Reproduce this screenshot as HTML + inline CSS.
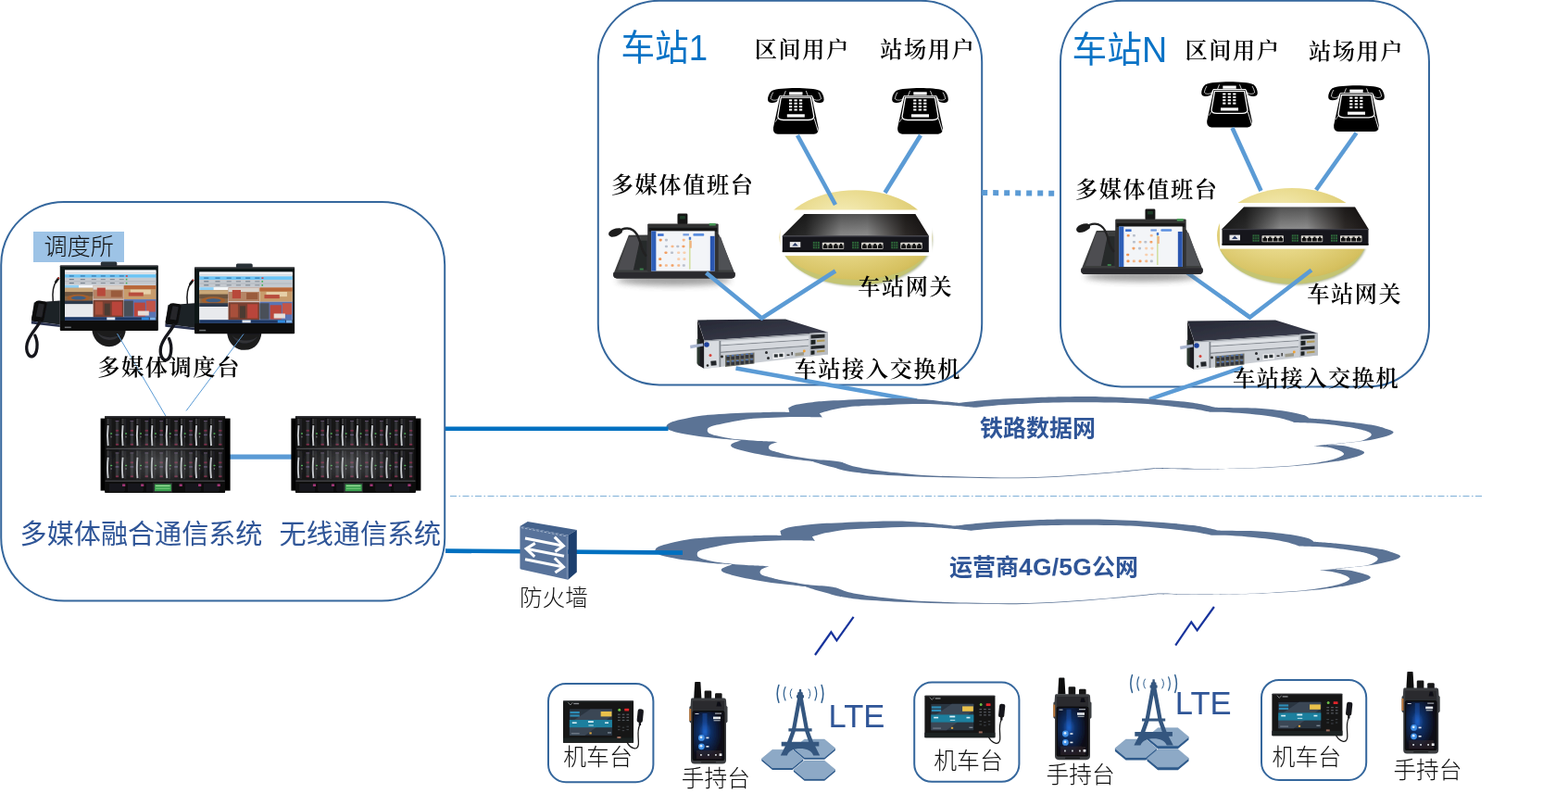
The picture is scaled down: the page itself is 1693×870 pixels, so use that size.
<!DOCTYPE html>
<html lang="zh-CN">
<head>
<meta charset="utf-8">
<title>多媒体融合通信系统组网图</title>
<style>
html,body{margin:0;padding:0;background:#fff;}
body{width:1693px;height:870px;overflow:hidden;}
svg{display:block;}
text{white-space:pre;}
.se{font-family:"Liberation Serif","Noto Serif CJK SC",serif;font-weight:600;fill:#000;}
.sl{font-family:"Liberation Sans","Noto Sans CJK SC",sans-serif;font-weight:300;}
.sr{font-family:"Liberation Sans","Noto Sans CJK SC",sans-serif;font-weight:400;}
.sb{font-family:"Liberation Sans","Noto Sans CJK SC",sans-serif;font-weight:700;}
</style>
</head>
<body>
<svg width="1693" height="870" viewBox="0 0 1693 870">
<rect width="1693" height="870" fill="#fff"/>
<g fill="none" stroke="#35679d" stroke-width="2">
<rect x="1.2" y="218" width="479" height="430.5" rx="68" ry="68"/>
<rect x="645.8" y="0.8" width="414.4" height="414.6" rx="66" ry="66"/>
<rect x="1145" y="0.8" width="398" height="416.6" rx="66" ry="66"/>
<rect x="592" y="738" width="113.4" height="106.2" rx="19" ry="19"/>
<rect x="987.2" y="736.6" width="113.2" height="107.2" rx="19" ry="19"/>
<rect x="1362" y="733.9" width="113.2" height="108" rx="19" ry="19"/>
</g>
<path d="M486,535.5 H1601" stroke="#7fb0d8" stroke-width="1" stroke-dasharray="7,2.5,1.5,2.5" fill="none"/>
<defs><filter id="soft" x="-10%" y="-10%" width="120%" height="120%"><feGaussianBlur stdDeviation="0.45"/></filter></defs>
<g stroke="#5b9bd5" stroke-width="4.4" fill="none">
<path d="M794.5,397.5 L990,432.5"/>
<path d="M1342,396.5 L1241,431"/>
</g>
<g transform="translate(719.5,428.2)"><path fill="#5b7395" d="M0,32.2C0,30.8 1.5,29.4 4.1,28.1C6.8,26.8 11,25.8 15.9,24.6C20.8,23.4 27.8,21.9 33.7,21C39.6,20.1 44.5,19.7 51.4,19.2C58.3,18.7 67.1,18.2 75,17.8C82.9,17.5 90.7,17.3 98.6,17.1C106.5,16.9 116.6,16.6 122.3,16.6C128,16.6 132.9,16.9 132.9,16.9C132.9,16.9 131.7,12.2 131.7,12.2C131.7,12.2 135.7,9.6 140,8.6C144.3,7.6 151,6.8 157.7,6C164.5,5.2 168.7,4.7 180.5,4.1C192.3,3.5 213.8,2.5 228.5,2.2C243.2,1.9 256.1,1.7 268.5,2.2C280.9,2.7 295.2,4.7 303,5.4C310.8,6.2 315.5,6.7 315.5,6.7C315.5,6.7 338.3,4 352.5,3C366.7,2 387.5,1.2 400.5,0.7C413.5,0.2 419.3,0.1 430.5,0C441.7,-0.1 452.7,-0.4 467.5,0C482.3,0.4 503,1.2 519.5,2.2C536,3.2 554.5,4.7 566.5,6.2C578.5,7.7 591.5,11.2 591.5,11.2C591.5,11.2 593.1,11.6 600.5,11.8C607.9,12 626.1,11.9 635.9,12.4C645.7,12.9 652.6,13.8 659.5,14.6C666.4,15.4 672.4,16.3 677.3,17.2C682.2,18.1 686.3,19.1 689.1,20.1C691.8,21.1 693.8,23.3 693.8,23.3C693.8,23.3 710.5,24.4 718.6,25.2C726.7,25.9 734.4,26.8 742.3,27.8C750.2,28.8 760,30.1 765.9,31.3C771.8,32.5 774.7,33.9 777.7,34.9C780.8,35.9 783.1,36.6 784.2,37.4C785.3,38.2 785.3,38.7 784.2,39.6C783.1,40.5 780.8,41.6 777.7,42.6C774.7,43.6 769.8,44.7 765.9,45.5C762,46.3 758,47 754.1,47.6C750.2,48.2 746.2,48.7 742.3,49.1C738.4,49.5 735.8,49.7 730.5,50.2C725.2,50.7 710.5,52.2 710.5,52.2C710.5,52.2 715.3,51.9 718.6,52C721.9,52.1 726.5,52.2 730.5,52.8C734.5,53.4 738.7,54.6 742.3,55.6C745.9,56.6 750.6,57.8 752.3,58.8C754,59.8 754,60.7 752.3,61.8C750.6,62.9 745.9,64.5 742.3,65.6C738.7,66.7 734.5,67.7 730.5,68.5C726.5,69.3 724.5,69.5 718.6,70.3C712.7,71.1 702.9,72.5 695,73.3C687.1,74.1 681.3,74.7 671.4,75.3C661.6,75.9 647.7,76.7 635.9,77.1C624.1,77.6 610.1,77.8 600.5,78C590.9,78.2 590.4,78.5 578.5,78.4C566.6,78.3 529.3,77.6 529.3,77.6C529.3,77.6 496,80.9 479.5,82.3C463,83.7 446.6,85.1 430.1,86.1C413.6,87.1 397.6,87.9 380.5,88.1C363.4,88.3 344.8,87.8 327.8,87.5C310.7,87.3 294.8,87.2 278.2,86.6C261.7,86 240.9,84.9 228.5,84.1C216.1,83.3 210,82.4 203.8,81.6C197.6,80.9 195.4,80.5 191.5,79.6C187.6,78.7 184.2,77.4 180.5,76.4C176.8,75.4 173.3,74.7 169.5,73.6C165.7,72.5 157.7,69.8 157.7,69.8C157.7,69.8 145.9,68.3 140,67.7C134.1,67 128.2,66.7 122.3,65.9C116.4,65.1 110.4,64.1 104.5,63C98.6,61.9 92.1,60.7 86.8,59.4C81.5,58.1 75.5,56.5 72.6,55.3C69.8,54.1 69.5,53.1 69.7,52.1C69.9,51.1 71.9,50.3 73.8,49.4C75.7,48.6 80.9,47 80.9,47C80.9,47 74,46.6 69.1,46.2C64.2,45.8 57.3,45.2 51.4,44.6C45.5,44 39.6,43.4 33.7,42.6C27.8,41.8 20.8,40.6 15.9,39.6C11,38.6 6.8,37.6 4.1,36.4C1.5,35.2 0,33.6 0,32.2Z"/><path fill="#fff" d="M44.3,35.8C44.5,34.5 44.6,33.4 47.8,32.2C50.9,31 57.7,29.7 63.2,28.5C68.7,27.3 75,26 80.9,25.2C86.8,24.3 91.7,23.9 98.6,23.4C105.5,22.9 114.4,22.5 122.3,22.2C130.2,21.9 138.2,21.8 145.9,21.8C153.6,21.8 168.3,22.2 168.3,22.2C168.3,22.2 165.4,18.1 165.4,18.1C165.4,18.1 174.1,15.2 180.5,13.9C186.9,12.6 193.7,11.3 203.8,10.4C213.9,9.5 228.6,9.1 241,8.7C253.4,8.3 267,7.8 278.2,7.9C289.4,8 298.9,8.6 308,9.2C317.1,9.8 332.8,11.6 332.8,11.6C332.8,11.6 344.6,10.3 352.5,9.7C360.4,9.1 369.6,8.5 380.5,7.9C391.4,7.3 401.2,6.5 417.7,6.2C434.2,5.9 462.7,5.9 479.7,6.2C496.7,6.5 505,6.8 519.5,7.9C534,9 555.3,11.5 566.5,12.9C577.7,14.4 586.5,16.6 586.5,16.6C586.5,16.6 594.2,16.4 600.5,16.6C606.8,16.9 616.2,17.5 624.1,18.1C632,18.8 640.9,19.6 647.8,20.5C654.7,21.4 660.4,22.5 665.5,23.7C670.6,24.9 678.5,27.8 678.5,27.8C678.5,27.8 688.3,28 695,28.4C701.7,28.8 710.7,29.3 718.6,30.2C726.5,31.1 736.4,32.6 742.3,33.7C748.2,34.8 751,35.6 754.1,36.6C757.1,37.6 759.6,38.5 760.6,39.6C761.6,40.7 761.5,41.8 760,43.1C758.5,44.4 754.7,46.4 751.7,47.3C748.8,48.3 745.8,48.4 742.3,48.8C738.8,49.3 737.7,49.3 730.5,50C723.3,50.7 699.1,53.2 699.1,53.2C699.1,53.2 708.5,53.7 712.7,54.4C716.9,55.1 721.5,56.3 724.5,57.3C727.5,58.3 729.5,59.3 730.5,60.3C731.5,61.3 732.5,61.9 730.5,63.2C728.5,64.5 724.5,66.5 718.6,68C712.7,69.5 702.9,71.3 695,72.4C687.1,73.5 681.3,74.1 671.4,74.8C661.6,75.5 647.7,76.3 635.9,76.8C624.1,77.3 610,77.6 600.5,77.8C591,78 590.9,78.1 579,77.9C567.1,77.8 529.3,76.9 529.3,76.9C529.3,76.9 496.2,80.2 479.7,81.6C463.2,83 446.6,84.4 430.1,85.3C413.6,86.3 397.6,87.1 380.5,87.3C363.4,87.5 344.8,87 327.8,86.6C310.7,86.2 290.3,85.4 278.2,84.8C266.2,84.2 263.8,83.6 255.5,82.8C247.2,82 237.1,81 228.5,79.8C219.9,78.6 210.1,77.1 203.8,75.6C197.5,74.1 190.5,71 190.5,71C190.5,71 186,70 180.5,69.4C175,68.8 165.4,68.4 157.7,67.4C150,66.4 140,64.6 134.1,63.5C128.2,62.4 126,61.7 122.3,60.6C118.5,59.5 113.4,58.5 111.6,57.1C109.8,55.7 110.1,53.7 111.6,52.3C113.1,50.9 120.5,48.8 120.5,48.8C120.5,48.8 105.2,48.2 98.6,47.8C92,47.4 85.8,46.9 80.9,46.4C76,45.9 73,45.6 69.1,45C65.2,44.4 61,43.8 57.3,42.9C53.6,42.1 48.9,41.1 46.7,39.9C44.5,38.7 44.1,37.1 44.3,35.8Z"/></g>
<g transform="translate(707.4,560.6) scale(1.025,1.039)"><path fill="#5b7395" d="M0,32.2C0,30.8 1.5,29.4 4.1,28.1C6.8,26.8 11,25.8 15.9,24.6C20.8,23.4 27.8,21.9 33.7,21C39.6,20.1 44.5,19.7 51.4,19.2C58.3,18.7 67.1,18.2 75,17.8C82.9,17.5 90.7,17.3 98.6,17.1C106.5,16.9 116.6,16.6 122.3,16.6C128,16.6 132.9,16.9 132.9,16.9C132.9,16.9 131.7,12.2 131.7,12.2C131.7,12.2 135.7,9.6 140,8.6C144.3,7.6 151,6.8 157.7,6C164.5,5.2 168.7,4.7 180.5,4.1C192.3,3.5 213.8,2.5 228.5,2.2C243.2,1.9 256.1,1.7 268.5,2.2C280.9,2.7 295.2,4.7 303,5.4C310.8,6.2 315.5,6.7 315.5,6.7C315.5,6.7 338.3,4 352.5,3C366.7,2 387.5,1.2 400.5,0.7C413.5,0.2 419.3,0.1 430.5,0C441.7,-0.1 452.7,-0.4 467.5,0C482.3,0.4 503,1.2 519.5,2.2C536,3.2 554.5,4.7 566.5,6.2C578.5,7.7 591.5,11.2 591.5,11.2C591.5,11.2 593.1,11.6 600.5,11.8C607.9,12 626.1,11.9 635.9,12.4C645.7,12.9 652.6,13.8 659.5,14.6C666.4,15.4 672.4,16.3 677.3,17.2C682.2,18.1 686.3,19.1 689.1,20.1C691.8,21.1 693.8,23.3 693.8,23.3C693.8,23.3 710.5,24.4 718.6,25.2C726.7,25.9 734.4,26.8 742.3,27.8C750.2,28.8 760,30.1 765.9,31.3C771.8,32.5 774.7,33.9 777.7,34.9C780.8,35.9 783.1,36.6 784.2,37.4C785.3,38.2 785.3,38.7 784.2,39.6C783.1,40.5 780.8,41.6 777.7,42.6C774.7,43.6 769.8,44.7 765.9,45.5C762,46.3 758,47 754.1,47.6C750.2,48.2 746.2,48.7 742.3,49.1C738.4,49.5 735.8,49.7 730.5,50.2C725.2,50.7 710.5,52.2 710.5,52.2C710.5,52.2 715.3,51.9 718.6,52C721.9,52.1 726.5,52.2 730.5,52.8C734.5,53.4 738.7,54.6 742.3,55.6C745.9,56.6 750.6,57.8 752.3,58.8C754,59.8 754,60.7 752.3,61.8C750.6,62.9 745.9,64.5 742.3,65.6C738.7,66.7 734.5,67.7 730.5,68.5C726.5,69.3 724.5,69.5 718.6,70.3C712.7,71.1 702.9,72.5 695,73.3C687.1,74.1 681.3,74.7 671.4,75.3C661.6,75.9 647.7,76.7 635.9,77.1C624.1,77.6 610.1,77.8 600.5,78C590.9,78.2 590.4,78.5 578.5,78.4C566.6,78.3 529.3,77.6 529.3,77.6C529.3,77.6 496,80.9 479.5,82.3C463,83.7 446.6,85.1 430.1,86.1C413.6,87.1 397.6,87.9 380.5,88.1C363.4,88.3 344.8,87.8 327.8,87.5C310.7,87.3 294.8,87.2 278.2,86.6C261.7,86 240.9,84.9 228.5,84.1C216.1,83.3 210,82.4 203.8,81.6C197.6,80.9 195.4,80.5 191.5,79.6C187.6,78.7 184.2,77.4 180.5,76.4C176.8,75.4 173.3,74.7 169.5,73.6C165.7,72.5 157.7,69.8 157.7,69.8C157.7,69.8 145.9,68.3 140,67.7C134.1,67 128.2,66.7 122.3,65.9C116.4,65.1 110.4,64.1 104.5,63C98.6,61.9 92.1,60.7 86.8,59.4C81.5,58.1 75.5,56.5 72.6,55.3C69.8,54.1 69.5,53.1 69.7,52.1C69.9,51.1 71.9,50.3 73.8,49.4C75.7,48.6 80.9,47 80.9,47C80.9,47 74,46.6 69.1,46.2C64.2,45.8 57.3,45.2 51.4,44.6C45.5,44 39.6,43.4 33.7,42.6C27.8,41.8 20.8,40.6 15.9,39.6C11,38.6 6.8,37.6 4.1,36.4C1.5,35.2 0,33.6 0,32.2Z"/><path fill="#fff" d="M44.3,35.8C44.5,34.5 44.6,33.4 47.8,32.2C50.9,31 57.7,29.7 63.2,28.5C68.7,27.3 75,26 80.9,25.2C86.8,24.3 91.7,23.9 98.6,23.4C105.5,22.9 114.4,22.5 122.3,22.2C130.2,21.9 138.2,21.8 145.9,21.8C153.6,21.8 168.3,22.2 168.3,22.2C168.3,22.2 165.4,18.1 165.4,18.1C165.4,18.1 174.1,15.2 180.5,13.9C186.9,12.6 193.7,11.3 203.8,10.4C213.9,9.5 228.6,9.1 241,8.7C253.4,8.3 267,7.8 278.2,7.9C289.4,8 298.9,8.6 308,9.2C317.1,9.8 332.8,11.6 332.8,11.6C332.8,11.6 344.6,10.3 352.5,9.7C360.4,9.1 369.6,8.5 380.5,7.9C391.4,7.3 401.2,6.5 417.7,6.2C434.2,5.9 462.7,5.9 479.7,6.2C496.7,6.5 505,6.8 519.5,7.9C534,9 555.3,11.5 566.5,12.9C577.7,14.4 586.5,16.6 586.5,16.6C586.5,16.6 594.2,16.4 600.5,16.6C606.8,16.9 616.2,17.5 624.1,18.1C632,18.8 640.9,19.6 647.8,20.5C654.7,21.4 660.4,22.5 665.5,23.7C670.6,24.9 678.5,27.8 678.5,27.8C678.5,27.8 688.3,28 695,28.4C701.7,28.8 710.7,29.3 718.6,30.2C726.5,31.1 736.4,32.6 742.3,33.7C748.2,34.8 751,35.6 754.1,36.6C757.1,37.6 759.6,38.5 760.6,39.6C761.6,40.7 761.5,41.8 760,43.1C758.5,44.4 754.7,46.4 751.7,47.3C748.8,48.3 745.8,48.4 742.3,48.8C738.8,49.3 737.7,49.3 730.5,50C723.3,50.7 699.1,53.2 699.1,53.2C699.1,53.2 708.5,53.7 712.7,54.4C716.9,55.1 721.5,56.3 724.5,57.3C727.5,58.3 729.5,59.3 730.5,60.3C731.5,61.3 732.5,61.9 730.5,63.2C728.5,64.5 724.5,66.5 718.6,68C712.7,69.5 702.9,71.3 695,72.4C687.1,73.5 681.3,74.1 671.4,74.8C661.6,75.5 647.7,76.3 635.9,76.8C624.1,77.3 610,77.6 600.5,77.8C591,78 590.9,78.1 579,77.9C567.1,77.8 529.3,76.9 529.3,76.9C529.3,76.9 496.2,80.2 479.7,81.6C463.2,83 446.6,84.4 430.1,85.3C413.6,86.3 397.6,87.1 380.5,87.3C363.4,87.5 344.8,87 327.8,86.6C310.7,86.2 290.3,85.4 278.2,84.8C266.2,84.2 263.8,83.6 255.5,82.8C247.2,82 237.1,81 228.5,79.8C219.9,78.6 210.1,77.1 203.8,75.6C197.5,74.1 190.5,71 190.5,71C190.5,71 186,70 180.5,69.4C175,68.8 165.4,68.4 157.7,67.4C150,66.4 140,64.6 134.1,63.5C128.2,62.4 126,61.7 122.3,60.6C118.5,59.5 113.4,58.5 111.6,57.1C109.8,55.7 110.1,53.7 111.6,52.3C113.1,50.9 120.5,48.8 120.5,48.8C120.5,48.8 105.2,48.2 98.6,47.8C92,47.4 85.8,46.9 80.9,46.4C76,45.9 73,45.6 69.1,45C65.2,44.4 61,43.8 57.3,42.9C53.6,42.1 48.9,41.1 46.7,39.9C44.5,38.7 44.1,37.1 44.3,35.8Z"/></g>
<g stroke="#0070c0" stroke-width="4.6" fill="none">
<path d="M481,462.8 L721.5,462.8"/>
<path d="M481,594.6 L737,596.6"/>
</g>
<path d="M1060.2,208 L1138.4,208.7" stroke="#5b9bd5" stroke-width="6" stroke-dasharray="6,6" fill="none"/>
<rect x="36" y="250" width="98" height="33" fill="#9dc3e6"/>
<g transform="translate(64.8,286.6)" filter="url(#soft)"><path d="M-28,40 L0,38 L0,64 L-31,60 Z" fill="#1f2126"/><path d="M-31,60 L0,64 L0,66.5 L-31,63 Z" fill="#2a3350"/><path d="M-27,40 Q-26,37.5 -22,38 L-16,39 Q-13.5,40 -14.5,43 L-17.5,59 Q-18.5,61.5 -22,61 L-29,60 Q-31.5,59 -30.5,56 Z" fill="#0c0d0f"/><path d="M-23,41 L-17,42 L-19.5,56 L-26,55 Z" fill="#26282c"/><path d="M-7.5,39 C-8.5,30 -8,22 -3.5,16.5" fill="none" stroke="#1b1b1d" stroke-width="1.5"/><path d="M-4.6,18 L-1.8,14" stroke="#151515" stroke-width="2.6" stroke-linecap="round"/><circle cx="-1.6" cy="13.6" r="0.9" fill="#d0342c"/><path d="M-22,61 C-25,68 -33,74 -35.5,84 C-37.5,93 -33.5,99.5 -29.5,98 C-24.5,96 -23,84 -27,75.5" fill="none" stroke="#16181d" stroke-width="3.3" stroke-linecap="round"/><path d="M34.5,69 L71,69 C70.5,78 64.5,87.6 53,87.6 C41.5,87.6 35,78 34.5,69 Z" fill="#1b1c1f"/><path d="M40,72 C44,82 60,84 67,73 C61,79 47,79.5 40,72 Z" fill="#303136"/><rect x="44" y="-4" width="17.5" height="5" rx="1.6" fill="#2b3038"/><rect x="0" y="0" width="106" height="70.4" rx="1" fill="#111214"/><rect x="0" y="0" width="106" height="1.2" fill="#3b3d42"/><rect x="0.5" y="60" width="105" height="10" fill="#0a0a0b"/><rect x="5" y="66" width="7" height="1.5" fill="#6d6f73"/><rect x="5.2" y="5" width="98.4" height="54" fill="#e9edf1"/><rect x="5.2" y="5" width="98.4" height="3.2" fill="#f6f7f9"/><rect x="5.2" y="7" width="98.4" height="2" fill="#d9dde2"/><rect x="5.2" y="9.6" width="98.4" height="3.6" fill="#6cc4f4"/><rect x="5.2" y="13.2" width="98.4" height="8" fill="#c4c9cf"/><rect x="5.2" y="16.8" width="98.4" height="0.8" fill="#aeb4bb"/><rect x="10" y="10.8" width="5" height="1.1" fill="#2d6fa8"/><rect x="10" y="14.4" width="5" height="1.1" fill="#6d7a88"/><rect x="10" y="18.4" width="5" height="1.1" fill="#6d7a88"/><rect x="22" y="10.8" width="5" height="1.1" fill="#2d6fa8"/><rect x="22" y="14.4" width="5" height="1.1" fill="#78828e"/><rect x="22" y="18.4" width="5" height="1.1" fill="#78828e"/><rect x="34" y="10.8" width="5" height="1.1" fill="#2d6fa8"/><rect x="34" y="14.4" width="5" height="1.1" fill="#8a929c"/><rect x="34" y="18.4" width="5" height="1.1" fill="#8a929c"/><rect x="44" y="10.8" width="5" height="1.1" fill="#2d6fa8"/><rect x="44" y="14.4" width="5" height="1.1" fill="#8a929c"/><rect x="44" y="18.4" width="5" height="1.1" fill="#8a929c"/><rect x="54" y="10.8" width="5" height="1.1" fill="#2d6fa8"/><rect x="54" y="14.4" width="5" height="1.1" fill="#7e8791"/><rect x="54" y="18.4" width="5" height="1.1" fill="#7e8791"/><rect x="64" y="10.8" width="5" height="1.1" fill="#2d6fa8"/><rect x="64" y="14.4" width="5" height="1.1" fill="#8a929c"/><rect x="64" y="18.4" width="5" height="1.1" fill="#8a929c"/><rect x="71" y="10.6" width="2" height="1.6" fill="#d43a3a"/><rect x="71" y="14.2" width="1.6" height="1.6" fill="#3fae55"/><rect x="71" y="18.2" width="1.6" height="1.6" fill="#3fae55"/><rect x="5.2" y="21.2" width="30" height="3" fill="#f4f6f8"/><rect x="5.2" y="21.2" width="15" height="3" fill="#8fd0f5"/><rect x="5.2" y="24.2" width="30.3" height="17.5" fill="#8a6a4a"/><rect x="5.2" y="24.2" width="30.3" height="5" fill="#c9a779"/><rect x="5.2" y="28.5" width="30.3" height="4.5" fill="#6c5440"/><ellipse cx="20" cy="35" rx="12.5" ry="3.8" fill="#a3602f"/><ellipse cx="20" cy="35" rx="8" ry="2" fill="#3d5f86"/><rect x="5.2" y="38" width="30.3" height="3.7" fill="#2e3a4e"/><rect x="5.2" y="41.7" width="30.3" height="14" fill="#e8eaed"/><rect x="36" y="21.5" width="32.5" height="34.2" fill="#8b4a36"/><rect x="36" y="21.5" width="32.5" height="5" fill="#d9d2cb"/><rect x="36" y="26" width="32.5" height="10" fill="#b58566"/><rect x="40" y="24" width="9" height="9" fill="#b8493a"/><rect x="55" y="27" width="12" height="7" fill="#9a5b3e"/><rect x="36" y="36" width="32.5" height="1.2" fill="#e6e6e6"/><rect x="36" y="37.2" width="32.5" height="18.5" fill="#7a4030"/><rect x="38" y="39" width="8" height="14" fill="#a8503a"/><rect x="48" y="41" width="6" height="13" fill="#4c3a33"/><rect x="56" y="39" width="11" height="15" fill="#b9453a"/><rect x="69" y="21.5" width="34.6" height="15" fill="#c79c6c"/><rect x="69" y="21.5" width="34.6" height="4" fill="#b8683a"/><rect x="76" y="26" width="22" height="5" fill="#e6cfa8"/><rect x="74" y="29" width="16" height="4" fill="#b84e3c"/><rect x="69" y="36.5" width="34.6" height="19.2" fill="#5a74b4"/><rect x="69" y="38" width="10" height="17" fill="#4a4f58"/><rect x="80" y="40" width="12" height="15" fill="#ba463c"/><rect x="93" y="38" width="10" height="12" fill="#c2544a"/><rect x="84" y="49" width="12" height="5" fill="#e6dcd6"/><rect x="5.2" y="55.6" width="98.4" height="3.6" fill="#1d3765"/><rect x="50.5" y="55.9" width="9" height="2.8" fill="#dfe6ef"/><rect x="88" y="55.9" width="8" height="2.8" fill="#2f8be0"/><rect x="97" y="55.9" width="6" height="2.8" fill="#7fb4ea"/></g>
<g transform="translate(210,288.5) scale(1.02,1.02)" filter="url(#soft)"><path d="M-28,40 L0,38 L0,64 L-31,60 Z" fill="#1f2126"/><path d="M-31,60 L0,64 L0,66.5 L-31,63 Z" fill="#2a3350"/><path d="M-27,40 Q-26,37.5 -22,38 L-16,39 Q-13.5,40 -14.5,43 L-17.5,59 Q-18.5,61.5 -22,61 L-29,60 Q-31.5,59 -30.5,56 Z" fill="#0c0d0f"/><path d="M-23,41 L-17,42 L-19.5,56 L-26,55 Z" fill="#26282c"/><path d="M-7.5,39 C-8.5,30 -8,22 -3.5,16.5" fill="none" stroke="#1b1b1d" stroke-width="1.5"/><path d="M-4.6,18 L-1.8,14" stroke="#151515" stroke-width="2.6" stroke-linecap="round"/><circle cx="-1.6" cy="13.6" r="0.9" fill="#d0342c"/><path d="M-22,61 C-25,68 -33,74 -35.5,84 C-37.5,93 -33.5,99.5 -29.5,98 C-24.5,96 -23,84 -27,75.5" fill="none" stroke="#16181d" stroke-width="3.3" stroke-linecap="round"/><path d="M34.5,69 L71,69 C70.5,78 64.5,87.6 53,87.6 C41.5,87.6 35,78 34.5,69 Z" fill="#1b1c1f"/><path d="M40,72 C44,82 60,84 67,73 C61,79 47,79.5 40,72 Z" fill="#303136"/><rect x="44" y="-4" width="17.5" height="5" rx="1.6" fill="#2b3038"/><rect x="0" y="0" width="106" height="70.4" rx="1" fill="#111214"/><rect x="0" y="0" width="106" height="1.2" fill="#3b3d42"/><rect x="0.5" y="60" width="105" height="10" fill="#0a0a0b"/><rect x="5" y="66" width="7" height="1.5" fill="#6d6f73"/><rect x="5.2" y="5" width="98.4" height="54" fill="#e9edf1"/><rect x="5.2" y="5" width="98.4" height="3.2" fill="#f6f7f9"/><rect x="5.2" y="7" width="98.4" height="2" fill="#d9dde2"/><rect x="5.2" y="9.6" width="98.4" height="3.6" fill="#6cc4f4"/><rect x="5.2" y="13.2" width="98.4" height="8" fill="#c4c9cf"/><rect x="5.2" y="16.8" width="98.4" height="0.8" fill="#aeb4bb"/><rect x="10" y="10.8" width="5" height="1.1" fill="#2d6fa8"/><rect x="10" y="14.4" width="5" height="1.1" fill="#6d7a88"/><rect x="10" y="18.4" width="5" height="1.1" fill="#6d7a88"/><rect x="22" y="10.8" width="5" height="1.1" fill="#2d6fa8"/><rect x="22" y="14.4" width="5" height="1.1" fill="#78828e"/><rect x="22" y="18.4" width="5" height="1.1" fill="#78828e"/><rect x="34" y="10.8" width="5" height="1.1" fill="#2d6fa8"/><rect x="34" y="14.4" width="5" height="1.1" fill="#8a929c"/><rect x="34" y="18.4" width="5" height="1.1" fill="#8a929c"/><rect x="44" y="10.8" width="5" height="1.1" fill="#2d6fa8"/><rect x="44" y="14.4" width="5" height="1.1" fill="#8a929c"/><rect x="44" y="18.4" width="5" height="1.1" fill="#8a929c"/><rect x="54" y="10.8" width="5" height="1.1" fill="#2d6fa8"/><rect x="54" y="14.4" width="5" height="1.1" fill="#7e8791"/><rect x="54" y="18.4" width="5" height="1.1" fill="#7e8791"/><rect x="64" y="10.8" width="5" height="1.1" fill="#2d6fa8"/><rect x="64" y="14.4" width="5" height="1.1" fill="#8a929c"/><rect x="64" y="18.4" width="5" height="1.1" fill="#8a929c"/><rect x="71" y="10.6" width="2" height="1.6" fill="#d43a3a"/><rect x="71" y="14.2" width="1.6" height="1.6" fill="#3fae55"/><rect x="71" y="18.2" width="1.6" height="1.6" fill="#3fae55"/><rect x="5.2" y="21.2" width="30" height="3" fill="#f4f6f8"/><rect x="5.2" y="21.2" width="15" height="3" fill="#8fd0f5"/><rect x="5.2" y="24.2" width="30.3" height="17.5" fill="#8a6a4a"/><rect x="5.2" y="24.2" width="30.3" height="5" fill="#c9a779"/><rect x="5.2" y="28.5" width="30.3" height="4.5" fill="#6c5440"/><ellipse cx="20" cy="35" rx="12.5" ry="3.8" fill="#a3602f"/><ellipse cx="20" cy="35" rx="8" ry="2" fill="#3d5f86"/><rect x="5.2" y="38" width="30.3" height="3.7" fill="#2e3a4e"/><rect x="5.2" y="41.7" width="30.3" height="14" fill="#e8eaed"/><rect x="36" y="21.5" width="32.5" height="34.2" fill="#8b4a36"/><rect x="36" y="21.5" width="32.5" height="5" fill="#d9d2cb"/><rect x="36" y="26" width="32.5" height="10" fill="#b58566"/><rect x="40" y="24" width="9" height="9" fill="#b8493a"/><rect x="55" y="27" width="12" height="7" fill="#9a5b3e"/><rect x="36" y="36" width="32.5" height="1.2" fill="#e6e6e6"/><rect x="36" y="37.2" width="32.5" height="18.5" fill="#7a4030"/><rect x="38" y="39" width="8" height="14" fill="#a8503a"/><rect x="48" y="41" width="6" height="13" fill="#4c3a33"/><rect x="56" y="39" width="11" height="15" fill="#b9453a"/><rect x="69" y="21.5" width="34.6" height="15" fill="#c79c6c"/><rect x="69" y="21.5" width="34.6" height="4" fill="#b8683a"/><rect x="76" y="26" width="22" height="5" fill="#e6cfa8"/><rect x="74" y="29" width="16" height="4" fill="#b84e3c"/><rect x="69" y="36.5" width="34.6" height="19.2" fill="#5a74b4"/><rect x="69" y="38" width="10" height="17" fill="#4a4f58"/><rect x="80" y="40" width="12" height="15" fill="#ba463c"/><rect x="93" y="38" width="10" height="12" fill="#c2544a"/><rect x="84" y="49" width="12" height="5" fill="#e6dcd6"/><rect x="5.2" y="55.6" width="98.4" height="3.6" fill="#1d3765"/><rect x="50.5" y="55.9" width="9" height="2.8" fill="#dfe6ef"/><rect x="88" y="55.9" width="8" height="2.8" fill="#2f8be0"/><rect x="97" y="55.9" width="6" height="2.8" fill="#7fb4ea"/></g>
<g stroke="#5b9bd5" stroke-width="1" fill="none"><path d="M126.5,360 L179.5,450"/><path d="M263,360.5 L201,443.5"/></g>
<path d="M248,493.2 H315" stroke="#5b9bd5" stroke-width="5.2" fill="none"/>
<g transform="translate(108.6,448.6)" filter="url(#soft)"><defs><radialGradient id="sva" cx="0.45" cy="0.72" r="0.45"><stop offset="0" stop-color="#8a8c90" stop-opacity="0.38"/><stop offset="1" stop-color="#8a8c90" stop-opacity="0"/></radialGradient></defs><rect x="0" y="3" width="140" height="78" fill="#050505"/><rect x="4.5" y="0.5" width="130" height="83" rx="1" fill="#0e0e0f"/><rect x="4.5" y="0.5" width="130" height="1.4" fill="#3a3a3c"/><rect x="6.5" y="2.5" width="14.9" height="32" fill="#131314"/><path d="M8.1,10.5 q-1.3,11 0,22" fill="none" stroke="#c9ccd0" stroke-width="1.9"/><rect x="6.9" y="3.3" width="2.2" height="6" fill="#3a3b3e"/><rect x="9.5" y="3.5" width="2.4" height="30" fill="#242426"/><rect x="16.3" y="5.5" width="3.2" height="26" fill="#303134"/><rect x="16" y="5.3" width="3.8" height="1.1" fill="#5d4d68"/><rect x="16.3" y="15.3" width="3.2" height="1.8" fill="#7c2f4a"/><rect x="16.1" y="20.1" width="3.6" height="1.4" fill="#6a5c80"/><rect x="16.3" y="30.3" width="3.2" height="1.8" fill="#7c2f4a"/><rect x="10.5" y="18.7" width="2.2" height="1.5" rx="0.7" fill="#55b259"/><rect x="10.9" y="22.1" width="1.2" height="1.6" fill="#77797d"/><rect x="22.4" y="2.5" width="14.9" height="32" fill="#131314"/><path d="M24,10.5 q-1.3,11 0,22" fill="none" stroke="#c9ccd0" stroke-width="1.9"/><rect x="22.8" y="3.3" width="2.2" height="6" fill="#3a3b3e"/><rect x="25.4" y="3.5" width="2.4" height="30" fill="#242426"/><rect x="32.2" y="5.5" width="3.2" height="26" fill="#303134"/><rect x="31.9" y="5.3" width="3.8" height="1.1" fill="#5d4d68"/><rect x="32.2" y="15.3" width="3.2" height="1.8" fill="#7c2f4a"/><rect x="32" y="20.1" width="3.6" height="1.4" fill="#6a5c80"/><rect x="32.2" y="30.3" width="3.2" height="1.8" fill="#7c2f4a"/><rect x="26.4" y="18.7" width="2.2" height="1.5" rx="0.7" fill="#55b259"/><rect x="26.8" y="22.1" width="1.2" height="1.6" fill="#77797d"/><rect x="38.3" y="2.5" width="14.9" height="32" fill="#131314"/><path d="M39.9,10.5 q-1.3,11 0,22" fill="none" stroke="#c9ccd0" stroke-width="1.9"/><rect x="38.7" y="3.3" width="2.2" height="6" fill="#3a3b3e"/><rect x="41.3" y="3.5" width="2.4" height="30" fill="#242426"/><rect x="48.1" y="5.5" width="3.2" height="26" fill="#303134"/><rect x="47.8" y="5.3" width="3.8" height="1.1" fill="#5d4d68"/><rect x="48.1" y="15.3" width="3.2" height="1.8" fill="#7c2f4a"/><rect x="47.9" y="20.1" width="3.6" height="1.4" fill="#6a5c80"/><rect x="48.1" y="30.3" width="3.2" height="1.8" fill="#7c2f4a"/><rect x="42.3" y="18.7" width="2.2" height="1.5" rx="0.7" fill="#55b259"/><rect x="42.7" y="22.1" width="1.2" height="1.6" fill="#77797d"/><rect x="54.2" y="2.5" width="14.9" height="32" fill="#131314"/><path d="M55.8,10.5 q-1.3,11 0,22" fill="none" stroke="#c9ccd0" stroke-width="1.9"/><rect x="54.6" y="3.3" width="2.2" height="6" fill="#3a3b3e"/><rect x="57.2" y="3.5" width="2.4" height="30" fill="#242426"/><rect x="64" y="5.5" width="3.2" height="26" fill="#303134"/><rect x="63.7" y="5.3" width="3.8" height="1.1" fill="#5d4d68"/><rect x="64" y="15.3" width="3.2" height="1.8" fill="#7c2f4a"/><rect x="63.8" y="20.1" width="3.6" height="1.4" fill="#6a5c80"/><rect x="64" y="30.3" width="3.2" height="1.8" fill="#7c2f4a"/><rect x="58.2" y="18.7" width="2.2" height="1.5" rx="0.7" fill="#55b259"/><rect x="58.6" y="22.1" width="1.2" height="1.6" fill="#77797d"/><rect x="70.1" y="2.5" width="14.9" height="32" fill="#131314"/><path d="M71.7,10.5 q-1.3,11 0,22" fill="none" stroke="#c9ccd0" stroke-width="1.9"/><rect x="70.5" y="3.3" width="2.2" height="6" fill="#3a3b3e"/><rect x="73.1" y="3.5" width="2.4" height="30" fill="#242426"/><rect x="79.9" y="5.5" width="3.2" height="26" fill="#303134"/><rect x="79.6" y="5.3" width="3.8" height="1.1" fill="#5d4d68"/><rect x="79.9" y="15.3" width="3.2" height="1.8" fill="#7c2f4a"/><rect x="79.7" y="20.1" width="3.6" height="1.4" fill="#6a5c80"/><rect x="79.9" y="30.3" width="3.2" height="1.8" fill="#7c2f4a"/><rect x="74.1" y="18.7" width="2.2" height="1.5" rx="0.7" fill="#55b259"/><rect x="74.5" y="22.1" width="1.2" height="1.6" fill="#77797d"/><rect x="86" y="2.5" width="14.9" height="32" fill="#131314"/><path d="M87.6,10.5 q-1.3,11 0,22" fill="none" stroke="#c9ccd0" stroke-width="1.9"/><rect x="86.4" y="3.3" width="2.2" height="6" fill="#3a3b3e"/><rect x="89" y="3.5" width="2.4" height="30" fill="#242426"/><rect x="95.8" y="5.5" width="3.2" height="26" fill="#303134"/><rect x="95.5" y="5.3" width="3.8" height="1.1" fill="#5d4d68"/><rect x="95.8" y="15.3" width="3.2" height="1.8" fill="#7c2f4a"/><rect x="95.6" y="20.1" width="3.6" height="1.4" fill="#6a5c80"/><rect x="95.8" y="30.3" width="3.2" height="1.8" fill="#7c2f4a"/><rect x="90" y="18.7" width="2.2" height="1.5" rx="0.7" fill="#55b259"/><rect x="90.4" y="22.1" width="1.2" height="1.6" fill="#77797d"/><rect x="101.9" y="2.5" width="14.9" height="32" fill="#131314"/><path d="M103.5,10.5 q-1.3,11 0,22" fill="none" stroke="#c9ccd0" stroke-width="1.9"/><rect x="102.3" y="3.3" width="2.2" height="6" fill="#3a3b3e"/><rect x="104.9" y="3.5" width="2.4" height="30" fill="#242426"/><rect x="111.7" y="5.5" width="3.2" height="26" fill="#303134"/><rect x="111.4" y="5.3" width="3.8" height="1.1" fill="#5d4d68"/><rect x="111.7" y="15.3" width="3.2" height="1.8" fill="#7c2f4a"/><rect x="111.5" y="20.1" width="3.6" height="1.4" fill="#6a5c80"/><rect x="111.7" y="30.3" width="3.2" height="1.8" fill="#7c2f4a"/><rect x="105.9" y="18.7" width="2.2" height="1.5" rx="0.7" fill="#55b259"/><rect x="106.3" y="22.1" width="1.2" height="1.6" fill="#77797d"/><rect x="117.8" y="2.5" width="14.9" height="32" fill="#131314"/><path d="M119.4,10.5 q-1.3,11 0,22" fill="none" stroke="#c9ccd0" stroke-width="1.9"/><rect x="118.2" y="3.3" width="2.2" height="6" fill="#3a3b3e"/><rect x="120.8" y="3.5" width="2.4" height="30" fill="#242426"/><rect x="127.6" y="5.5" width="3.2" height="26" fill="#303134"/><rect x="127.3" y="5.3" width="3.8" height="1.1" fill="#5d4d68"/><rect x="127.6" y="15.3" width="3.2" height="1.8" fill="#7c2f4a"/><rect x="127.4" y="20.1" width="3.6" height="1.4" fill="#6a5c80"/><rect x="127.6" y="30.3" width="3.2" height="1.8" fill="#7c2f4a"/><rect x="121.8" y="18.7" width="2.2" height="1.5" rx="0.7" fill="#55b259"/><rect x="122.2" y="22.1" width="1.2" height="1.6" fill="#77797d"/><rect x="6.5" y="37" width="14.9" height="32.5" fill="#131314"/><path d="M8.1,45 q-1.3,11.2 0,22.5" fill="none" stroke="#c9ccd0" stroke-width="1.9"/><rect x="6.9" y="37.8" width="2.2" height="6" fill="#3a3b3e"/><rect x="9.5" y="38" width="2.4" height="30.5" fill="#242426"/><rect x="16.3" y="40" width="3.2" height="26.5" fill="#303134"/><rect x="16" y="39.8" width="3.8" height="1.1" fill="#5d4d68"/><rect x="16.3" y="49.8" width="3.2" height="1.8" fill="#7c2f4a"/><rect x="16.1" y="54.6" width="3.6" height="1.4" fill="#6a5c80"/><rect x="16.3" y="64.8" width="3.2" height="1.8" fill="#7c2f4a"/><rect x="10.5" y="53.2" width="2.2" height="1.5" rx="0.7" fill="#55b259"/><rect x="10.9" y="56.6" width="1.2" height="1.6" fill="#77797d"/><rect x="22.4" y="37" width="14.9" height="32.5" fill="#131314"/><path d="M24,45 q-1.3,11.2 0,22.5" fill="none" stroke="#c9ccd0" stroke-width="1.9"/><rect x="22.8" y="37.8" width="2.2" height="6" fill="#3a3b3e"/><rect x="25.4" y="38" width="2.4" height="30.5" fill="#242426"/><rect x="32.2" y="40" width="3.2" height="26.5" fill="#303134"/><rect x="31.9" y="39.8" width="3.8" height="1.1" fill="#5d4d68"/><rect x="32.2" y="49.8" width="3.2" height="1.8" fill="#7c2f4a"/><rect x="32" y="54.6" width="3.6" height="1.4" fill="#6a5c80"/><rect x="32.2" y="64.8" width="3.2" height="1.8" fill="#7c2f4a"/><rect x="26.4" y="53.2" width="2.2" height="1.5" rx="0.7" fill="#55b259"/><rect x="26.8" y="56.6" width="1.2" height="1.6" fill="#77797d"/><rect x="38.3" y="37" width="14.9" height="32.5" fill="#131314"/><path d="M39.9,45 q-1.3,11.2 0,22.5" fill="none" stroke="#c9ccd0" stroke-width="1.9"/><rect x="38.7" y="37.8" width="2.2" height="6" fill="#3a3b3e"/><rect x="41.3" y="38" width="2.4" height="30.5" fill="#242426"/><rect x="48.1" y="40" width="3.2" height="26.5" fill="#303134"/><rect x="47.8" y="39.8" width="3.8" height="1.1" fill="#5d4d68"/><rect x="48.1" y="49.8" width="3.2" height="1.8" fill="#7c2f4a"/><rect x="47.9" y="54.6" width="3.6" height="1.4" fill="#6a5c80"/><rect x="48.1" y="64.8" width="3.2" height="1.8" fill="#7c2f4a"/><rect x="42.3" y="53.2" width="2.2" height="1.5" rx="0.7" fill="#55b259"/><rect x="42.7" y="56.6" width="1.2" height="1.6" fill="#77797d"/><rect x="54.2" y="37" width="14.9" height="32.5" fill="#131314"/><path d="M55.8,45 q-1.3,11.2 0,22.5" fill="none" stroke="#c9ccd0" stroke-width="1.9"/><rect x="54.6" y="37.8" width="2.2" height="6" fill="#3a3b3e"/><rect x="57.2" y="38" width="2.4" height="30.5" fill="#242426"/><rect x="64" y="40" width="3.2" height="26.5" fill="#303134"/><rect x="63.7" y="39.8" width="3.8" height="1.1" fill="#5d4d68"/><rect x="64" y="49.8" width="3.2" height="1.8" fill="#7c2f4a"/><rect x="63.8" y="54.6" width="3.6" height="1.4" fill="#6a5c80"/><rect x="64" y="64.8" width="3.2" height="1.8" fill="#7c2f4a"/><rect x="58.2" y="53.2" width="2.2" height="1.5" rx="0.7" fill="#55b259"/><rect x="58.6" y="56.6" width="1.2" height="1.6" fill="#77797d"/><rect x="70.1" y="37" width="14.9" height="32.5" fill="#131314"/><path d="M71.7,45 q-1.3,11.2 0,22.5" fill="none" stroke="#c9ccd0" stroke-width="1.9"/><rect x="70.5" y="37.8" width="2.2" height="6" fill="#3a3b3e"/><rect x="73.1" y="38" width="2.4" height="30.5" fill="#242426"/><rect x="79.9" y="40" width="3.2" height="26.5" fill="#303134"/><rect x="79.6" y="39.8" width="3.8" height="1.1" fill="#5d4d68"/><rect x="79.9" y="49.8" width="3.2" height="1.8" fill="#7c2f4a"/><rect x="79.7" y="54.6" width="3.6" height="1.4" fill="#6a5c80"/><rect x="79.9" y="64.8" width="3.2" height="1.8" fill="#7c2f4a"/><rect x="74.1" y="53.2" width="2.2" height="1.5" rx="0.7" fill="#55b259"/><rect x="74.5" y="56.6" width="1.2" height="1.6" fill="#77797d"/><rect x="86" y="37" width="14.9" height="32.5" fill="#131314"/><path d="M87.6,45 q-1.3,11.2 0,22.5" fill="none" stroke="#c9ccd0" stroke-width="1.9"/><rect x="86.4" y="37.8" width="2.2" height="6" fill="#3a3b3e"/><rect x="89" y="38" width="2.4" height="30.5" fill="#242426"/><rect x="95.8" y="40" width="3.2" height="26.5" fill="#303134"/><rect x="95.5" y="39.8" width="3.8" height="1.1" fill="#5d4d68"/><rect x="95.8" y="49.8" width="3.2" height="1.8" fill="#7c2f4a"/><rect x="95.6" y="54.6" width="3.6" height="1.4" fill="#6a5c80"/><rect x="95.8" y="64.8" width="3.2" height="1.8" fill="#7c2f4a"/><rect x="90" y="53.2" width="2.2" height="1.5" rx="0.7" fill="#55b259"/><rect x="90.4" y="56.6" width="1.2" height="1.6" fill="#77797d"/><rect x="101.9" y="37" width="14.9" height="32.5" fill="#131314"/><path d="M103.5,45 q-1.3,11.2 0,22.5" fill="none" stroke="#c9ccd0" stroke-width="1.9"/><rect x="102.3" y="37.8" width="2.2" height="6" fill="#3a3b3e"/><rect x="104.9" y="38" width="2.4" height="30.5" fill="#242426"/><rect x="111.7" y="40" width="3.2" height="26.5" fill="#303134"/><rect x="111.4" y="39.8" width="3.8" height="1.1" fill="#5d4d68"/><rect x="111.7" y="49.8" width="3.2" height="1.8" fill="#7c2f4a"/><rect x="111.5" y="54.6" width="3.6" height="1.4" fill="#6a5c80"/><rect x="111.7" y="64.8" width="3.2" height="1.8" fill="#7c2f4a"/><rect x="105.9" y="53.2" width="2.2" height="1.5" rx="0.7" fill="#55b259"/><rect x="106.3" y="56.6" width="1.2" height="1.6" fill="#77797d"/><rect x="117.8" y="37" width="14.9" height="32.5" fill="#131314"/><path d="M119.4,45 q-1.3,11.2 0,22.5" fill="none" stroke="#c9ccd0" stroke-width="1.9"/><rect x="118.2" y="37.8" width="2.2" height="6" fill="#3a3b3e"/><rect x="120.8" y="38" width="2.4" height="30.5" fill="#242426"/><rect x="127.6" y="40" width="3.2" height="26.5" fill="#303134"/><rect x="127.3" y="39.8" width="3.8" height="1.1" fill="#5d4d68"/><rect x="127.6" y="49.8" width="3.2" height="1.8" fill="#7c2f4a"/><rect x="127.4" y="54.6" width="3.6" height="1.4" fill="#6a5c80"/><rect x="127.6" y="64.8" width="3.2" height="1.8" fill="#7c2f4a"/><rect x="121.8" y="53.2" width="2.2" height="1.5" rx="0.7" fill="#55b259"/><rect x="122.2" y="56.6" width="1.2" height="1.6" fill="#77797d"/><rect x="6" y="35" width="127" height="1.5" fill="#46474a"/><rect x="5" y="2" width="129" height="68" fill="url(#sva)"/><rect x="5" y="70" width="129" height="1.2" fill="#55575a"/><rect x="5" y="71.2" width="129" height="12" fill="#0b0b0c"/><rect x="9" y="73" width="17" height="9" fill="#18181a"/><rect x="29" y="73" width="17" height="9" fill="#18181a"/><rect x="49" y="73" width="17" height="9" fill="#18181a"/><rect x="91" y="73" width="17" height="9" fill="#18181a"/><rect x="111" y="73" width="17" height="9" fill="#18181a"/><rect x="23.5" y="73.8" width="3.2" height="2.6" fill="#9e3674"/><rect x="43.5" y="73.8" width="3.2" height="2.6" fill="#9e3674"/><rect x="85" y="73.8" width="3.2" height="2.6" fill="#9e3674"/><rect x="105.5" y="73.8" width="3.2" height="2.6" fill="#9e3674"/><rect x="126" y="73.8" width="3.2" height="2.6" fill="#9e3674"/><rect x="56.5" y="72.5" width="21" height="10.5" fill="#2b2b2d"/><rect x="58.3" y="74" width="18" height="7.6" fill="#3aa04f"/><rect x="59.5" y="75.2" width="15.5" height="1.2" fill="#9edc9a"/><rect x="59.5" y="78" width="15.5" height="1.2" fill="#74c778"/></g>
<g transform="translate(314.4,448.6)" filter="url(#soft)"><defs><radialGradient id="svb" cx="0.45" cy="0.72" r="0.45"><stop offset="0" stop-color="#8a8c90" stop-opacity="0.38"/><stop offset="1" stop-color="#8a8c90" stop-opacity="0"/></radialGradient></defs><rect x="0" y="3" width="140" height="78" fill="#050505"/><rect x="4.5" y="0.5" width="130" height="83" rx="1" fill="#0e0e0f"/><rect x="4.5" y="0.5" width="130" height="1.4" fill="#3a3a3c"/><rect x="6.5" y="2.5" width="14.9" height="32" fill="#131314"/><path d="M8.1,10.5 q-1.3,11 0,22" fill="none" stroke="#c9ccd0" stroke-width="1.9"/><rect x="6.9" y="3.3" width="2.2" height="6" fill="#3a3b3e"/><rect x="9.5" y="3.5" width="2.4" height="30" fill="#242426"/><rect x="16.3" y="5.5" width="3.2" height="26" fill="#303134"/><rect x="16" y="5.3" width="3.8" height="1.1" fill="#5d4d68"/><rect x="16.3" y="15.3" width="3.2" height="1.8" fill="#7c2f4a"/><rect x="16.1" y="20.1" width="3.6" height="1.4" fill="#6a5c80"/><rect x="16.3" y="30.3" width="3.2" height="1.8" fill="#7c2f4a"/><rect x="10.5" y="18.7" width="2.2" height="1.5" rx="0.7" fill="#55b259"/><rect x="10.9" y="22.1" width="1.2" height="1.6" fill="#77797d"/><rect x="22.4" y="2.5" width="14.9" height="32" fill="#131314"/><path d="M24,10.5 q-1.3,11 0,22" fill="none" stroke="#c9ccd0" stroke-width="1.9"/><rect x="22.8" y="3.3" width="2.2" height="6" fill="#3a3b3e"/><rect x="25.4" y="3.5" width="2.4" height="30" fill="#242426"/><rect x="32.2" y="5.5" width="3.2" height="26" fill="#303134"/><rect x="31.9" y="5.3" width="3.8" height="1.1" fill="#5d4d68"/><rect x="32.2" y="15.3" width="3.2" height="1.8" fill="#7c2f4a"/><rect x="32" y="20.1" width="3.6" height="1.4" fill="#6a5c80"/><rect x="32.2" y="30.3" width="3.2" height="1.8" fill="#7c2f4a"/><rect x="26.4" y="18.7" width="2.2" height="1.5" rx="0.7" fill="#55b259"/><rect x="26.8" y="22.1" width="1.2" height="1.6" fill="#77797d"/><rect x="38.3" y="2.5" width="14.9" height="32" fill="#131314"/><path d="M39.9,10.5 q-1.3,11 0,22" fill="none" stroke="#c9ccd0" stroke-width="1.9"/><rect x="38.7" y="3.3" width="2.2" height="6" fill="#3a3b3e"/><rect x="41.3" y="3.5" width="2.4" height="30" fill="#242426"/><rect x="48.1" y="5.5" width="3.2" height="26" fill="#303134"/><rect x="47.8" y="5.3" width="3.8" height="1.1" fill="#5d4d68"/><rect x="48.1" y="15.3" width="3.2" height="1.8" fill="#7c2f4a"/><rect x="47.9" y="20.1" width="3.6" height="1.4" fill="#6a5c80"/><rect x="48.1" y="30.3" width="3.2" height="1.8" fill="#7c2f4a"/><rect x="42.3" y="18.7" width="2.2" height="1.5" rx="0.7" fill="#55b259"/><rect x="42.7" y="22.1" width="1.2" height="1.6" fill="#77797d"/><rect x="54.2" y="2.5" width="14.9" height="32" fill="#131314"/><path d="M55.8,10.5 q-1.3,11 0,22" fill="none" stroke="#c9ccd0" stroke-width="1.9"/><rect x="54.6" y="3.3" width="2.2" height="6" fill="#3a3b3e"/><rect x="57.2" y="3.5" width="2.4" height="30" fill="#242426"/><rect x="64" y="5.5" width="3.2" height="26" fill="#303134"/><rect x="63.7" y="5.3" width="3.8" height="1.1" fill="#5d4d68"/><rect x="64" y="15.3" width="3.2" height="1.8" fill="#7c2f4a"/><rect x="63.8" y="20.1" width="3.6" height="1.4" fill="#6a5c80"/><rect x="64" y="30.3" width="3.2" height="1.8" fill="#7c2f4a"/><rect x="58.2" y="18.7" width="2.2" height="1.5" rx="0.7" fill="#55b259"/><rect x="58.6" y="22.1" width="1.2" height="1.6" fill="#77797d"/><rect x="70.1" y="2.5" width="14.9" height="32" fill="#131314"/><path d="M71.7,10.5 q-1.3,11 0,22" fill="none" stroke="#c9ccd0" stroke-width="1.9"/><rect x="70.5" y="3.3" width="2.2" height="6" fill="#3a3b3e"/><rect x="73.1" y="3.5" width="2.4" height="30" fill="#242426"/><rect x="79.9" y="5.5" width="3.2" height="26" fill="#303134"/><rect x="79.6" y="5.3" width="3.8" height="1.1" fill="#5d4d68"/><rect x="79.9" y="15.3" width="3.2" height="1.8" fill="#7c2f4a"/><rect x="79.7" y="20.1" width="3.6" height="1.4" fill="#6a5c80"/><rect x="79.9" y="30.3" width="3.2" height="1.8" fill="#7c2f4a"/><rect x="74.1" y="18.7" width="2.2" height="1.5" rx="0.7" fill="#55b259"/><rect x="74.5" y="22.1" width="1.2" height="1.6" fill="#77797d"/><rect x="86" y="2.5" width="14.9" height="32" fill="#131314"/><path d="M87.6,10.5 q-1.3,11 0,22" fill="none" stroke="#c9ccd0" stroke-width="1.9"/><rect x="86.4" y="3.3" width="2.2" height="6" fill="#3a3b3e"/><rect x="89" y="3.5" width="2.4" height="30" fill="#242426"/><rect x="95.8" y="5.5" width="3.2" height="26" fill="#303134"/><rect x="95.5" y="5.3" width="3.8" height="1.1" fill="#5d4d68"/><rect x="95.8" y="15.3" width="3.2" height="1.8" fill="#7c2f4a"/><rect x="95.6" y="20.1" width="3.6" height="1.4" fill="#6a5c80"/><rect x="95.8" y="30.3" width="3.2" height="1.8" fill="#7c2f4a"/><rect x="90" y="18.7" width="2.2" height="1.5" rx="0.7" fill="#55b259"/><rect x="90.4" y="22.1" width="1.2" height="1.6" fill="#77797d"/><rect x="101.9" y="2.5" width="14.9" height="32" fill="#131314"/><path d="M103.5,10.5 q-1.3,11 0,22" fill="none" stroke="#c9ccd0" stroke-width="1.9"/><rect x="102.3" y="3.3" width="2.2" height="6" fill="#3a3b3e"/><rect x="104.9" y="3.5" width="2.4" height="30" fill="#242426"/><rect x="111.7" y="5.5" width="3.2" height="26" fill="#303134"/><rect x="111.4" y="5.3" width="3.8" height="1.1" fill="#5d4d68"/><rect x="111.7" y="15.3" width="3.2" height="1.8" fill="#7c2f4a"/><rect x="111.5" y="20.1" width="3.6" height="1.4" fill="#6a5c80"/><rect x="111.7" y="30.3" width="3.2" height="1.8" fill="#7c2f4a"/><rect x="105.9" y="18.7" width="2.2" height="1.5" rx="0.7" fill="#55b259"/><rect x="106.3" y="22.1" width="1.2" height="1.6" fill="#77797d"/><rect x="117.8" y="2.5" width="14.9" height="32" fill="#131314"/><path d="M119.4,10.5 q-1.3,11 0,22" fill="none" stroke="#c9ccd0" stroke-width="1.9"/><rect x="118.2" y="3.3" width="2.2" height="6" fill="#3a3b3e"/><rect x="120.8" y="3.5" width="2.4" height="30" fill="#242426"/><rect x="127.6" y="5.5" width="3.2" height="26" fill="#303134"/><rect x="127.3" y="5.3" width="3.8" height="1.1" fill="#5d4d68"/><rect x="127.6" y="15.3" width="3.2" height="1.8" fill="#7c2f4a"/><rect x="127.4" y="20.1" width="3.6" height="1.4" fill="#6a5c80"/><rect x="127.6" y="30.3" width="3.2" height="1.8" fill="#7c2f4a"/><rect x="121.8" y="18.7" width="2.2" height="1.5" rx="0.7" fill="#55b259"/><rect x="122.2" y="22.1" width="1.2" height="1.6" fill="#77797d"/><rect x="6.5" y="37" width="14.9" height="32.5" fill="#131314"/><path d="M8.1,45 q-1.3,11.2 0,22.5" fill="none" stroke="#c9ccd0" stroke-width="1.9"/><rect x="6.9" y="37.8" width="2.2" height="6" fill="#3a3b3e"/><rect x="9.5" y="38" width="2.4" height="30.5" fill="#242426"/><rect x="16.3" y="40" width="3.2" height="26.5" fill="#303134"/><rect x="16" y="39.8" width="3.8" height="1.1" fill="#5d4d68"/><rect x="16.3" y="49.8" width="3.2" height="1.8" fill="#7c2f4a"/><rect x="16.1" y="54.6" width="3.6" height="1.4" fill="#6a5c80"/><rect x="16.3" y="64.8" width="3.2" height="1.8" fill="#7c2f4a"/><rect x="10.5" y="53.2" width="2.2" height="1.5" rx="0.7" fill="#55b259"/><rect x="10.9" y="56.6" width="1.2" height="1.6" fill="#77797d"/><rect x="22.4" y="37" width="14.9" height="32.5" fill="#131314"/><path d="M24,45 q-1.3,11.2 0,22.5" fill="none" stroke="#c9ccd0" stroke-width="1.9"/><rect x="22.8" y="37.8" width="2.2" height="6" fill="#3a3b3e"/><rect x="25.4" y="38" width="2.4" height="30.5" fill="#242426"/><rect x="32.2" y="40" width="3.2" height="26.5" fill="#303134"/><rect x="31.9" y="39.8" width="3.8" height="1.1" fill="#5d4d68"/><rect x="32.2" y="49.8" width="3.2" height="1.8" fill="#7c2f4a"/><rect x="32" y="54.6" width="3.6" height="1.4" fill="#6a5c80"/><rect x="32.2" y="64.8" width="3.2" height="1.8" fill="#7c2f4a"/><rect x="26.4" y="53.2" width="2.2" height="1.5" rx="0.7" fill="#55b259"/><rect x="26.8" y="56.6" width="1.2" height="1.6" fill="#77797d"/><rect x="38.3" y="37" width="14.9" height="32.5" fill="#131314"/><path d="M39.9,45 q-1.3,11.2 0,22.5" fill="none" stroke="#c9ccd0" stroke-width="1.9"/><rect x="38.7" y="37.8" width="2.2" height="6" fill="#3a3b3e"/><rect x="41.3" y="38" width="2.4" height="30.5" fill="#242426"/><rect x="48.1" y="40" width="3.2" height="26.5" fill="#303134"/><rect x="47.8" y="39.8" width="3.8" height="1.1" fill="#5d4d68"/><rect x="48.1" y="49.8" width="3.2" height="1.8" fill="#7c2f4a"/><rect x="47.9" y="54.6" width="3.6" height="1.4" fill="#6a5c80"/><rect x="48.1" y="64.8" width="3.2" height="1.8" fill="#7c2f4a"/><rect x="42.3" y="53.2" width="2.2" height="1.5" rx="0.7" fill="#55b259"/><rect x="42.7" y="56.6" width="1.2" height="1.6" fill="#77797d"/><rect x="54.2" y="37" width="14.9" height="32.5" fill="#131314"/><path d="M55.8,45 q-1.3,11.2 0,22.5" fill="none" stroke="#c9ccd0" stroke-width="1.9"/><rect x="54.6" y="37.8" width="2.2" height="6" fill="#3a3b3e"/><rect x="57.2" y="38" width="2.4" height="30.5" fill="#242426"/><rect x="64" y="40" width="3.2" height="26.5" fill="#303134"/><rect x="63.7" y="39.8" width="3.8" height="1.1" fill="#5d4d68"/><rect x="64" y="49.8" width="3.2" height="1.8" fill="#7c2f4a"/><rect x="63.8" y="54.6" width="3.6" height="1.4" fill="#6a5c80"/><rect x="64" y="64.8" width="3.2" height="1.8" fill="#7c2f4a"/><rect x="58.2" y="53.2" width="2.2" height="1.5" rx="0.7" fill="#55b259"/><rect x="58.6" y="56.6" width="1.2" height="1.6" fill="#77797d"/><rect x="70.1" y="37" width="14.9" height="32.5" fill="#131314"/><path d="M71.7,45 q-1.3,11.2 0,22.5" fill="none" stroke="#c9ccd0" stroke-width="1.9"/><rect x="70.5" y="37.8" width="2.2" height="6" fill="#3a3b3e"/><rect x="73.1" y="38" width="2.4" height="30.5" fill="#242426"/><rect x="79.9" y="40" width="3.2" height="26.5" fill="#303134"/><rect x="79.6" y="39.8" width="3.8" height="1.1" fill="#5d4d68"/><rect x="79.9" y="49.8" width="3.2" height="1.8" fill="#7c2f4a"/><rect x="79.7" y="54.6" width="3.6" height="1.4" fill="#6a5c80"/><rect x="79.9" y="64.8" width="3.2" height="1.8" fill="#7c2f4a"/><rect x="74.1" y="53.2" width="2.2" height="1.5" rx="0.7" fill="#55b259"/><rect x="74.5" y="56.6" width="1.2" height="1.6" fill="#77797d"/><rect x="86" y="37" width="14.9" height="32.5" fill="#131314"/><path d="M87.6,45 q-1.3,11.2 0,22.5" fill="none" stroke="#c9ccd0" stroke-width="1.9"/><rect x="86.4" y="37.8" width="2.2" height="6" fill="#3a3b3e"/><rect x="89" y="38" width="2.4" height="30.5" fill="#242426"/><rect x="95.8" y="40" width="3.2" height="26.5" fill="#303134"/><rect x="95.5" y="39.8" width="3.8" height="1.1" fill="#5d4d68"/><rect x="95.8" y="49.8" width="3.2" height="1.8" fill="#7c2f4a"/><rect x="95.6" y="54.6" width="3.6" height="1.4" fill="#6a5c80"/><rect x="95.8" y="64.8" width="3.2" height="1.8" fill="#7c2f4a"/><rect x="90" y="53.2" width="2.2" height="1.5" rx="0.7" fill="#55b259"/><rect x="90.4" y="56.6" width="1.2" height="1.6" fill="#77797d"/><rect x="101.9" y="37" width="14.9" height="32.5" fill="#131314"/><path d="M103.5,45 q-1.3,11.2 0,22.5" fill="none" stroke="#c9ccd0" stroke-width="1.9"/><rect x="102.3" y="37.8" width="2.2" height="6" fill="#3a3b3e"/><rect x="104.9" y="38" width="2.4" height="30.5" fill="#242426"/><rect x="111.7" y="40" width="3.2" height="26.5" fill="#303134"/><rect x="111.4" y="39.8" width="3.8" height="1.1" fill="#5d4d68"/><rect x="111.7" y="49.8" width="3.2" height="1.8" fill="#7c2f4a"/><rect x="111.5" y="54.6" width="3.6" height="1.4" fill="#6a5c80"/><rect x="111.7" y="64.8" width="3.2" height="1.8" fill="#7c2f4a"/><rect x="105.9" y="53.2" width="2.2" height="1.5" rx="0.7" fill="#55b259"/><rect x="106.3" y="56.6" width="1.2" height="1.6" fill="#77797d"/><rect x="117.8" y="37" width="14.9" height="32.5" fill="#131314"/><path d="M119.4,45 q-1.3,11.2 0,22.5" fill="none" stroke="#c9ccd0" stroke-width="1.9"/><rect x="118.2" y="37.8" width="2.2" height="6" fill="#3a3b3e"/><rect x="120.8" y="38" width="2.4" height="30.5" fill="#242426"/><rect x="127.6" y="40" width="3.2" height="26.5" fill="#303134"/><rect x="127.3" y="39.8" width="3.8" height="1.1" fill="#5d4d68"/><rect x="127.6" y="49.8" width="3.2" height="1.8" fill="#7c2f4a"/><rect x="127.4" y="54.6" width="3.6" height="1.4" fill="#6a5c80"/><rect x="127.6" y="64.8" width="3.2" height="1.8" fill="#7c2f4a"/><rect x="121.8" y="53.2" width="2.2" height="1.5" rx="0.7" fill="#55b259"/><rect x="122.2" y="56.6" width="1.2" height="1.6" fill="#77797d"/><rect x="6" y="35" width="127" height="1.5" fill="#46474a"/><rect x="5" y="2" width="129" height="68" fill="url(#svb)"/><rect x="5" y="70" width="129" height="1.2" fill="#55575a"/><rect x="5" y="71.2" width="129" height="12" fill="#0b0b0c"/><rect x="9" y="73" width="17" height="9" fill="#18181a"/><rect x="29" y="73" width="17" height="9" fill="#18181a"/><rect x="49" y="73" width="17" height="9" fill="#18181a"/><rect x="91" y="73" width="17" height="9" fill="#18181a"/><rect x="111" y="73" width="17" height="9" fill="#18181a"/><rect x="23.5" y="73.8" width="3.2" height="2.6" fill="#9e3674"/><rect x="43.5" y="73.8" width="3.2" height="2.6" fill="#9e3674"/><rect x="85" y="73.8" width="3.2" height="2.6" fill="#9e3674"/><rect x="105.5" y="73.8" width="3.2" height="2.6" fill="#9e3674"/><rect x="126" y="73.8" width="3.2" height="2.6" fill="#9e3674"/><rect x="56.5" y="72.5" width="21" height="10.5" fill="#2b2b2d"/><rect x="58.3" y="74" width="18" height="7.6" fill="#3aa04f"/><rect x="59.5" y="75.2" width="15.5" height="1.2" fill="#9edc9a"/><rect x="59.5" y="78" width="15.5" height="1.2" fill="#74c778"/></g>
<g transform="translate(924,256.3)"><defs><radialGradient id="gda" cx="0.42" cy="0.3" r="0.8"><stop offset="0" stop-color="#f6efbe"/><stop offset="0.4" stop-color="#e9da8c"/><stop offset="0.8" stop-color="#d6c160"/><stop offset="1" stop-color="#c2ad4e"/></radialGradient><linearGradient id="gta" x1="0" x2="1"><stop offset="0" stop-color="#1b1b1b"/><stop offset="0.16" stop-color="#2a2a2a"/><stop offset="0.4" stop-color="#888"/><stop offset="0.58" stop-color="#8c8c8c"/><stop offset="0.84" stop-color="#2e2a28"/><stop offset="1" stop-color="#1a1616"/></linearGradient><linearGradient id="gva" x1="0" x2="0" y1="0" y2="1"><stop offset="0" stop-color="#000" stop-opacity="0.4"/><stop offset="1" stop-color="#000" stop-opacity="0"/></linearGradient><filter id="gba" x="-10%" y="-10%" width="120%" height="120%"><feGaussianBlur stdDeviation="1.2"/></filter></defs><ellipse cx="1.5" cy="2.6" rx="81.5" ry="50" fill="#7f8a55" opacity="0.6" filter="url(#gba)"/><ellipse cx="0" cy="0" rx="82.5" ry="51" fill="url(#gda)"/><path d="M-82.1,6 A82.5,50.6 0 0 0 82.1,6 A82.5,44 0 0 1 -82.1,6 Z" fill="#c2c676" opacity="0.85"/><g transform="translate(0.3,0.2)"><rect x="-82" y="-30" width="164" height="49.6" fill="#fff"/><path d="M-56,-25.5 L64,-25.5 L78.5,-2 L-79.5,-2 Z" fill="url(#gta)"/><path d="M-56,-25.5 L64,-25.5 L78.5,-2 L-79.5,-2 Z" fill="url(#gva)"/><rect x="-79.5" y="-2" width="158" height="17.6" fill="#16161c"/><rect x="-79.5" y="-2" width="158" height="1.2" fill="#3a3a42"/><rect x="-79.5" y="14" width="158" height="1.6" fill="#050506"/><rect x="-71.5" y="4.6" width="11.5" height="5.8" fill="#e8e8ea"/><path d="M-69,9 L-65.8,5.6 L-62.5,9 Z" fill="#2c3c66"/><rect x="-46.5" y="4.4" width="7" height="7.4" fill="#2f6b3a"/><path d="M-44.2,4.4 v7.4 M-41.8,4.4 v7.4 M-46.5,6.8 h7 M-46.5,9.4 h7" stroke="#16161c" stroke-width="0.7" fill="none"/><rect x="-36.5" y="5.2" width="23.4" height="7" rx="0.8" fill="#d9d6cf"/><path d="M-35.6,11.4 v-3.4 h1.3 v-1.5 h2.2 v1.5 h1.3 v3.4 Z" fill="#111"/><path d="M-30,11.4 v-3.4 h1.3 v-1.5 h2.2 v1.5 h1.3 v3.4 Z" fill="#111"/><path d="M-24.3,11.4 v-3.4 h1.3 v-1.5 h2.2 v1.5 h1.3 v3.4 Z" fill="#111"/><path d="M-18.6,11.4 v-3.4 h1.3 v-1.5 h2.2 v1.5 h1.3 v3.4 Z" fill="#111"/><rect x="-4.2" y="4.4" width="7" height="7.4" fill="#2f6b3a"/><path d="M-1.9,4.4 v7.4 M0.5,4.4 v7.4 M-4.2,6.8 h7 M-4.2,9.4 h7" stroke="#16161c" stroke-width="0.7" fill="none"/><rect x="5.8" y="5.2" width="23.4" height="7" rx="0.8" fill="#d9d6cf"/><path d="M6.7,11.4 v-3.4 h1.3 v-1.5 h2.2 v1.5 h1.3 v3.4 Z" fill="#111"/><path d="M12.4,11.4 v-3.4 h1.3 v-1.5 h2.2 v1.5 h1.3 v3.4 Z" fill="#111"/><path d="M18,11.4 v-3.4 h1.3 v-1.5 h2.2 v1.5 h1.3 v3.4 Z" fill="#111"/><path d="M23.7,11.4 v-3.4 h1.3 v-1.5 h2.2 v1.5 h1.3 v3.4 Z" fill="#111"/><rect x="38" y="4.4" width="7" height="7.4" fill="#2f6b3a"/><path d="M40.3,4.4 v7.4 M42.7,4.4 v7.4 M38,6.8 h7 M38,9.4 h7" stroke="#16161c" stroke-width="0.7" fill="none"/><rect x="48" y="5.2" width="23.4" height="7" rx="0.8" fill="#d9d6cf"/><path d="M48.9,11.4 v-3.4 h1.3 v-1.5 h2.2 v1.5 h1.3 v3.4 Z" fill="#111"/><path d="M54.5,11.4 v-3.4 h1.3 v-1.5 h2.2 v1.5 h1.3 v3.4 Z" fill="#111"/><path d="M60.2,11.4 v-3.4 h1.3 v-1.5 h2.2 v1.5 h1.3 v3.4 Z" fill="#111"/><path d="M65.8,11.4 v-3.4 h1.3 v-1.5 h2.2 v1.5 h1.3 v3.4 Z" fill="#111"/></g></g>
<g transform="translate(828.8,94.7)"><path d="M13.5,9 L47.5,9 L54.8,43 Q55.5,49.5 50,50 L11,50 Q5.5,49.5 6.2,43 Z" fill="#000"/><path d="M4.5,3.2 C14,-0.6 47,-0.6 56.5,3.2 C59.5,5.5 61,10 60.8,13 C60.5,16.5 56,17 51.5,15.2 C49.8,14 50,10.5 48,8.2 L13,8.2 C11,10.5 11.2,14 9.5,15.2 C5,17 0.5,16.5 0.2,13 C0,10 1.5,5.5 4.5,3.2 Z" fill="#000"/><path d="M6,5 C4.5,7.5 3.5,10 3.3,12.4" fill="none" stroke="#fff" stroke-width="0.8"/><path d="M55,5 C56.5,7.5 57.5,10 57.7,12.4" fill="none" stroke="#fff" stroke-width="0.8"/><path d="M4,12.8 C7,14 10,13.5 11.5,12" fill="none" stroke="#fff" stroke-width="0.7"/><path d="M57,12.8 C54,14 51,13.5 49.5,12" fill="none" stroke="#fff" stroke-width="0.7"/><rect x="23.3" y="4.6" width="14.4" height="3.2" fill="#fff"/><path d="M17.5,8.5 L19.5,3.4 M43.5,8.5 L41.5,3.4" stroke="#fff" stroke-width="0.8" fill="none"/><path d="M14.5,10.5 L46.5,10.5 L50,31 Q50,34.5 44,34.8 L17,34.8 Q11,34.5 11,31 Z" fill="none" stroke="#fff" stroke-width="1.3"/><path d="M50.3,33 L54.5,46.8" stroke="#fff" stroke-width="0.9" fill="none"/><path d="M10.7,33 L8.4,37" stroke="#fff" stroke-width="0.7" fill="none"/><rect x="23.2" y="12.6" width="3.2" height="2" fill="#fff"/><rect x="28.7" y="12.6" width="3.2" height="2" fill="#fff"/><rect x="34.2" y="12.6" width="3.2" height="2" fill="#fff"/><rect x="23.2" y="16" width="3.2" height="2" fill="#fff"/><rect x="28.7" y="16" width="3.2" height="2" fill="#fff"/><rect x="34.2" y="16" width="3.2" height="2" fill="#fff"/><rect x="23.2" y="19.4" width="3.2" height="2" fill="#fff"/><rect x="28.7" y="19.4" width="3.2" height="2" fill="#fff"/><rect x="34.2" y="19.4" width="3.2" height="2" fill="#fff"/><rect x="23.2" y="22.8" width="3.2" height="2" fill="#fff"/><rect x="28.7" y="22.8" width="3.2" height="2" fill="#fff"/><rect x="34.2" y="22.8" width="3.2" height="2" fill="#fff"/><rect x="21" y="28.6" width="19" height="3.2" fill="#fff"/></g>
<g transform="translate(963,94.7)"><path d="M13.5,9 L47.5,9 L54.8,43 Q55.5,49.5 50,50 L11,50 Q5.5,49.5 6.2,43 Z" fill="#000"/><path d="M4.5,3.2 C14,-0.6 47,-0.6 56.5,3.2 C59.5,5.5 61,10 60.8,13 C60.5,16.5 56,17 51.5,15.2 C49.8,14 50,10.5 48,8.2 L13,8.2 C11,10.5 11.2,14 9.5,15.2 C5,17 0.5,16.5 0.2,13 C0,10 1.5,5.5 4.5,3.2 Z" fill="#000"/><path d="M6,5 C4.5,7.5 3.5,10 3.3,12.4" fill="none" stroke="#fff" stroke-width="0.8"/><path d="M55,5 C56.5,7.5 57.5,10 57.7,12.4" fill="none" stroke="#fff" stroke-width="0.8"/><path d="M4,12.8 C7,14 10,13.5 11.5,12" fill="none" stroke="#fff" stroke-width="0.7"/><path d="M57,12.8 C54,14 51,13.5 49.5,12" fill="none" stroke="#fff" stroke-width="0.7"/><rect x="23.3" y="4.6" width="14.4" height="3.2" fill="#fff"/><path d="M17.5,8.5 L19.5,3.4 M43.5,8.5 L41.5,3.4" stroke="#fff" stroke-width="0.8" fill="none"/><path d="M14.5,10.5 L46.5,10.5 L50,31 Q50,34.5 44,34.8 L17,34.8 Q11,34.5 11,31 Z" fill="none" stroke="#fff" stroke-width="1.3"/><path d="M50.3,33 L54.5,46.8" stroke="#fff" stroke-width="0.9" fill="none"/><path d="M10.7,33 L8.4,37" stroke="#fff" stroke-width="0.7" fill="none"/><rect x="23.2" y="12.6" width="3.2" height="2" fill="#fff"/><rect x="28.7" y="12.6" width="3.2" height="2" fill="#fff"/><rect x="34.2" y="12.6" width="3.2" height="2" fill="#fff"/><rect x="23.2" y="16" width="3.2" height="2" fill="#fff"/><rect x="28.7" y="16" width="3.2" height="2" fill="#fff"/><rect x="34.2" y="16" width="3.2" height="2" fill="#fff"/><rect x="23.2" y="19.4" width="3.2" height="2" fill="#fff"/><rect x="28.7" y="19.4" width="3.2" height="2" fill="#fff"/><rect x="34.2" y="19.4" width="3.2" height="2" fill="#fff"/><rect x="23.2" y="22.8" width="3.2" height="2" fill="#fff"/><rect x="28.7" y="22.8" width="3.2" height="2" fill="#fff"/><rect x="34.2" y="22.8" width="3.2" height="2" fill="#fff"/><rect x="21" y="28.6" width="19" height="3.2" fill="#fff"/></g>
<g transform="translate(657,230) scale(0.993,0.993)" filter="url(#soft)"><defs><filter id="cba" x="-20%" y="-50%" width="140%" height="200%"><feGaussianBlur stdDeviation="3"/></filter></defs><ellipse cx="71" cy="73" rx="62" ry="6" fill="#555" opacity="0.55" filter="url(#cba)"/><path d="M22,24 L120,23 L137.5,66 Q138.5,70.5 134,71 L9,71 Q4.5,70.5 5.5,66 Z" fill="#3b3c3e"/><path d="M5.5,64.5 L137.5,64.5 Q139,70.5 134,71 L9,71 Q4,70.5 5.5,64.5 Z" fill="#2b2b2d"/><path d="M22,26 L35,26 L28,62 L10,62 Z" fill="#4d4e51"/><path d="M117,26 L122,26 L135,62 L119,62 Z" fill="#505154"/><path d="M34,30 L42,30 L42,62 L27,62 Z" fill="#28292b"/><rect x="34" y="60" width="4" height="2" fill="#3a7f4a"/><path d="M14,18 C24,14 31,19 34.5,32 C36,39 38,43 40.5,46" fill="none" stroke="#202122" stroke-width="2.4" stroke-linecap="round"/><path d="M0.5,21 Q4.5,16 12.5,16.4 Q16.5,18 14.5,21.5 Q8.5,26.5 3,26 Q-1,24.5 0.5,21 Z" fill="#1c1c1d"/><rect x="75" y="0.5" width="11" height="12" rx="1.4" fill="#151617"/><rect x="77.5" y="3" width="6" height="3.6" rx="1" fill="#1f3a28"/><rect x="42.5" y="11.5" width="77" height="52.5" rx="1.2" fill="#303133"/><rect x="44" y="16" width="74" height="3.8" fill="#121213"/><rect x="109.5" y="11" width="7" height="2.6" fill="#4a9a58"/><rect x="46.5" y="19.5" width="69" height="43.5" fill="#f3f5f8"/><rect x="46.5" y="19.5" width="5.2" height="43.5" fill="#2f5fb8"/><rect x="110.6" y="25" width="4.9" height="38" fill="#2a57b0"/><rect x="53.5" y="22.4" width="6.5" height="2.6" fill="#3a6fd0"/><rect x="81" y="22.4" width="6.5" height="2.2" fill="#6f9ae0"/><rect x="92" y="22.2" width="12" height="2.6" rx="1" fill="#5a8ee0"/><rect x="87.6" y="26" width="1.6" height="35" fill="#c9d98c" opacity="0.8"/><rect x="87.4" y="26" width="2.4" height="3" fill="#4a7ad0"/><rect x="88.2" y="30" width="2.2" height="8" fill="#f0b37e"/><rect x="55.1" y="28" width="3" height="2.6" rx="0.8" fill="#ee9452"/><rect x="61.4" y="28" width="3" height="2.6" rx="0.8" fill="#b9c0cc"/><rect x="80.3" y="28" width="3" height="2.6" rx="0.8" fill="#f6b98a"/><rect x="61.4" y="34.9" width="3" height="2.6" rx="0.8" fill="#b9c0cc"/><rect x="68" y="34.9" width="3" height="2.6" rx="0.8" fill="#f6b98a"/><rect x="73.8" y="34.9" width="3" height="2.6" rx="0.8" fill="#b9c0cc"/><rect x="80" y="34.9" width="3" height="2.6" rx="0.8" fill="#f2a166"/><rect x="60.9" y="41.8" width="3" height="2.6" rx="0.8" fill="#f2a166"/><rect x="67.5" y="41.8" width="3" height="2.6" rx="0.8" fill="#b9c0cc"/><rect x="74.7" y="41.8" width="3" height="2.6" rx="0.8" fill="#f8cfae"/><rect x="81" y="41.8" width="3" height="2.6" rx="0.8" fill="#f8cfae"/><rect x="54.6" y="48.7" width="3" height="2.6" rx="0.8" fill="#ee9452"/><rect x="74.8" y="48.7" width="3" height="2.6" rx="0.8" fill="#f8cfae"/><rect x="81" y="48.7" width="3" height="2.6" rx="0.8" fill="#f8cfae"/><rect x="54.9" y="55.6" width="3" height="2.6" rx="0.8" fill="#ee9452"/><rect x="61.3" y="55.6" width="3" height="2.6" rx="0.8" fill="#f6b98a"/><rect x="68" y="55.6" width="3" height="2.6" rx="0.8" fill="#f2a166"/><rect x="74.8" y="55.6" width="3" height="2.6" rx="0.8" fill="#f6b98a"/><rect x="80.4" y="55.6" width="3" height="2.6" rx="0.8" fill="#b9c0cc"/></g>
<g transform="translate(745,344)" filter="url(#soft)"><defs><linearGradient id="sta" x1="0" y1="0" x2="1" y2="1"><stop offset="0" stop-color="#262834"/><stop offset="1" stop-color="#3d4050"/></linearGradient></defs><path d="M8,1.2 L15.5,24 L15.5,54 L8.5,50 Z" fill="#1b1c22"/><path d="M7.5,22 L10.5,22 L10.5,50 L7.5,48.5 Z" fill="#2f3a33"/><path d="M8.3,1.4 L103,0.6 L149,14.8 L15.5,23.6 Z" fill="url(#sta)"/><path d="M15.5,23.6 L149,14.8 L149,16.2 L15.5,25 Z" fill="#8d9299"/><path d="M15.5,24.6 L149,16 L149,38.5 L15.5,54 Z" fill="#c9cdd3"/><path d="M33,28.2 L128,22 L128,23.2 L33,29.6 Z" fill="#8a8f96"/><path d="M33,35.5 L128,28.6 L128,29.8 L33,36.9 Z" fill="#8a8f96"/><path d="M33,25 L128,18.8 L128,22 L33,28.2 Z" fill="#dfe2e6"/><path d="M33,29.6 L128,23.2 L128,28.6 L33,35.5 Z" fill="#d5d8dd"/><path d="M15.5,25 L32,24 L32,52 L15.5,54 Z" fill="#d9dce1"/><path d="M31.5,24 L33.3,24 L33.3,52 L31.5,52.2 Z" fill="#7e838a"/><path d="M0,28.8 L14,26.4 L14.5,29.6 L0.5,32.2 Z" fill="#a9b6cf"/><circle cx="18" cy="28" r="2.8" fill="#1f3f9c"/><circle cx="22" cy="39.5" r="1.5" fill="#d6423a"/><rect x="22.5" y="45.5" width="6" height="5" fill="#24262b" transform="rotate(-5 25 48)"/><circle cx="19" cy="50.5" r="1.3" fill="#222"/><circle cx="34.5" cy="41" r="1.4" fill="#222"/><path d="M38,39.5 L69.5,36.6 L69.5,48.4 L38,52 Z" fill="#6e6f66"/><rect x="39.3" y="41" width="3.6" height="3.6" fill="#33363c"/><rect x="39.3" y="47" width="3.6" height="3.6" fill="#33363c"/><rect x="40" y="39.6" width="2.2" height="1.3" fill="#4d78c8"/><rect x="40" y="45.6" width="2.2" height="1.3" fill="#4d78c8"/><rect x="44.4" y="40.5" width="3.6" height="3.6" fill="#33363c"/><rect x="44.4" y="46.5" width="3.6" height="3.6" fill="#33363c"/><rect x="45.1" y="39.1" width="2.2" height="1.3" fill="#4d78c8"/><rect x="45.1" y="45.1" width="2.2" height="1.3" fill="#4d78c8"/><rect x="49.5" y="40.1" width="3.6" height="3.6" fill="#33363c"/><rect x="49.5" y="46.1" width="3.6" height="3.6" fill="#33363c"/><rect x="50.2" y="38.7" width="2.2" height="1.3" fill="#4d78c8"/><rect x="50.2" y="44.7" width="2.2" height="1.3" fill="#4d78c8"/><rect x="54.6" y="39.6" width="3.6" height="3.6" fill="#33363c"/><rect x="54.6" y="45.6" width="3.6" height="3.6" fill="#33363c"/><rect x="55.3" y="38.2" width="2.2" height="1.3" fill="#4d78c8"/><rect x="55.3" y="44.2" width="2.2" height="1.3" fill="#4d78c8"/><rect x="59.7" y="39.1" width="3.6" height="3.6" fill="#33363c"/><rect x="59.7" y="45.1" width="3.6" height="3.6" fill="#33363c"/><rect x="60.4" y="37.7" width="2.2" height="1.3" fill="#4d78c8"/><rect x="60.4" y="43.7" width="2.2" height="1.3" fill="#4d78c8"/><rect x="64.8" y="38.6" width="3.6" height="3.6" fill="#33363c"/><rect x="64.8" y="44.6" width="3.6" height="3.6" fill="#33363c"/><rect x="65.5" y="37.2" width="2.2" height="1.3" fill="#4d78c8"/><rect x="65.5" y="43.2" width="2.2" height="1.3" fill="#4d78c8"/><circle cx="82.5" cy="36.6" r="1.5" fill="#2a2c30"/><circle cx="84.5" cy="42.5" r="1.5" fill="#2a2c30"/><path d="M89.5,37.6 L102,36.4 L102,42.4 L89.5,43.8 Z" fill="#f1f2f4"/><rect x="90.8" y="38.3" width="4" height="3.4" fill="#2b3035"/><rect x="96.4" y="37.8" width="4" height="3.4" fill="#2b3035"/><rect x="104.5" y="38.4" width="3" height="1.6" fill="#333"/><rect x="109.5" y="36" width="1.4" height="3.4" fill="#333"/><path d="M113.5,37 L123,36 L123,39.6 L113.5,40.6 Z" fill="#9c9a8c"/><circle cx="123.3" cy="35" r="1.4" fill="#f0a030"/><path d="M129,15.8 L149,14.8 L149,38.4 L129,40.6 Z" fill="#b9bdc3"/><path d="M130.5,17.6 L145.5,16.8 L145.5,20.6 L130.5,21.6 Z" fill="#24272b"/><path d="M130.5,23 L135.5,22.7 L135.5,27.6 L130.5,28 Z" fill="#1e2124"/><path d="M137,23 L145.5,22.4 L145.5,24.6 L137,25.2 Z" fill="#b09a5a"/><path d="M130.5,29.6 L145.5,28.4 L145.5,31.8 L130.5,33 Z" fill="#24272b"/><path d="M130.5,34.6 L134.5,34.3 L134.5,38.6 L130.5,39 Z" fill="#1e2124"/><path d="M137,34.4 L145.5,33.6 L145.5,35.8 L137,36.6 Z" fill="#b09a5a"/></g>
<g stroke="#5b9bd5" stroke-width="4.6" fill="none" stroke-linejoin="miter">
<path d="M861,146 L902,221"/>
<path d="M994,146 L955.5,208"/>
</g>
<g stroke="#5b9bd5" stroke-width="4.6" fill="none" stroke-linejoin="miter">
<path d="M762.5,294.5 L822.5,343.5 L902,292.5"/>
</g>
<g transform="translate(1395,254.6)"><defs><radialGradient id="gdb" cx="0.42" cy="0.3" r="0.8"><stop offset="0" stop-color="#f6efbe"/><stop offset="0.4" stop-color="#e9da8c"/><stop offset="0.8" stop-color="#d6c160"/><stop offset="1" stop-color="#c2ad4e"/></radialGradient><linearGradient id="gtb" x1="0" x2="1"><stop offset="0" stop-color="#1b1b1b"/><stop offset="0.16" stop-color="#2a2a2a"/><stop offset="0.4" stop-color="#888"/><stop offset="0.58" stop-color="#8c8c8c"/><stop offset="0.84" stop-color="#2e2a28"/><stop offset="1" stop-color="#1a1616"/></linearGradient><linearGradient id="gvb" x1="0" x2="0" y1="0" y2="1"><stop offset="0" stop-color="#000" stop-opacity="0.4"/><stop offset="1" stop-color="#000" stop-opacity="0"/></linearGradient><filter id="gbb" x="-10%" y="-10%" width="120%" height="120%"><feGaussianBlur stdDeviation="1.2"/></filter></defs><ellipse cx="1.5" cy="2.6" rx="80" ry="50.5" fill="#7f8a55" opacity="0.6" filter="url(#gbb)"/><ellipse cx="0" cy="0" rx="81" ry="51.5" fill="url(#gdb)"/><path d="M-80.6,6 A81,51.1 0 0 0 80.6,6 A81,44.5 0 0 1 -80.6,6 Z" fill="#c2c676" opacity="0.85"/><g transform="translate(4,-5.6)"><rect x="-82" y="-30" width="164" height="49.6" fill="#fff"/><path d="M-56,-25.5 L64,-25.5 L78.5,-2 L-79.5,-2 Z" fill="url(#gtb)"/><path d="M-56,-25.5 L64,-25.5 L78.5,-2 L-79.5,-2 Z" fill="url(#gvb)"/><rect x="-79.5" y="-2" width="158" height="17.6" fill="#16161c"/><rect x="-79.5" y="-2" width="158" height="1.2" fill="#3a3a42"/><rect x="-79.5" y="14" width="158" height="1.6" fill="#050506"/><rect x="-71.5" y="4.6" width="11.5" height="5.8" fill="#e8e8ea"/><path d="M-69,9 L-65.8,5.6 L-62.5,9 Z" fill="#2c3c66"/><rect x="-46.5" y="4.4" width="7" height="7.4" fill="#2f6b3a"/><path d="M-44.2,4.4 v7.4 M-41.8,4.4 v7.4 M-46.5,6.8 h7 M-46.5,9.4 h7" stroke="#16161c" stroke-width="0.7" fill="none"/><rect x="-36.5" y="5.2" width="23.4" height="7" rx="0.8" fill="#d9d6cf"/><path d="M-35.6,11.4 v-3.4 h1.3 v-1.5 h2.2 v1.5 h1.3 v3.4 Z" fill="#111"/><path d="M-30,11.4 v-3.4 h1.3 v-1.5 h2.2 v1.5 h1.3 v3.4 Z" fill="#111"/><path d="M-24.3,11.4 v-3.4 h1.3 v-1.5 h2.2 v1.5 h1.3 v3.4 Z" fill="#111"/><path d="M-18.6,11.4 v-3.4 h1.3 v-1.5 h2.2 v1.5 h1.3 v3.4 Z" fill="#111"/><rect x="-4.2" y="4.4" width="7" height="7.4" fill="#2f6b3a"/><path d="M-1.9,4.4 v7.4 M0.5,4.4 v7.4 M-4.2,6.8 h7 M-4.2,9.4 h7" stroke="#16161c" stroke-width="0.7" fill="none"/><rect x="5.8" y="5.2" width="23.4" height="7" rx="0.8" fill="#d9d6cf"/><path d="M6.7,11.4 v-3.4 h1.3 v-1.5 h2.2 v1.5 h1.3 v3.4 Z" fill="#111"/><path d="M12.4,11.4 v-3.4 h1.3 v-1.5 h2.2 v1.5 h1.3 v3.4 Z" fill="#111"/><path d="M18,11.4 v-3.4 h1.3 v-1.5 h2.2 v1.5 h1.3 v3.4 Z" fill="#111"/><path d="M23.7,11.4 v-3.4 h1.3 v-1.5 h2.2 v1.5 h1.3 v3.4 Z" fill="#111"/><rect x="38" y="4.4" width="7" height="7.4" fill="#2f6b3a"/><path d="M40.3,4.4 v7.4 M42.7,4.4 v7.4 M38,6.8 h7 M38,9.4 h7" stroke="#16161c" stroke-width="0.7" fill="none"/><rect x="48" y="5.2" width="23.4" height="7" rx="0.8" fill="#d9d6cf"/><path d="M48.9,11.4 v-3.4 h1.3 v-1.5 h2.2 v1.5 h1.3 v3.4 Z" fill="#111"/><path d="M54.5,11.4 v-3.4 h1.3 v-1.5 h2.2 v1.5 h1.3 v3.4 Z" fill="#111"/><path d="M60.2,11.4 v-3.4 h1.3 v-1.5 h2.2 v1.5 h1.3 v3.4 Z" fill="#111"/><path d="M65.8,11.4 v-3.4 h1.3 v-1.5 h2.2 v1.5 h1.3 v3.4 Z" fill="#111"/></g></g>
<g transform="translate(1297,88) scale(1,0.99)"><path d="M13.5,9 L47.5,9 L54.8,43 Q55.5,49.5 50,50 L11,50 Q5.5,49.5 6.2,43 Z" fill="#000"/><path d="M4.5,3.2 C14,-0.6 47,-0.6 56.5,3.2 C59.5,5.5 61,10 60.8,13 C60.5,16.5 56,17 51.5,15.2 C49.8,14 50,10.5 48,8.2 L13,8.2 C11,10.5 11.2,14 9.5,15.2 C5,17 0.5,16.5 0.2,13 C0,10 1.5,5.5 4.5,3.2 Z" fill="#000"/><path d="M6,5 C4.5,7.5 3.5,10 3.3,12.4" fill="none" stroke="#fff" stroke-width="0.8"/><path d="M55,5 C56.5,7.5 57.5,10 57.7,12.4" fill="none" stroke="#fff" stroke-width="0.8"/><path d="M4,12.8 C7,14 10,13.5 11.5,12" fill="none" stroke="#fff" stroke-width="0.7"/><path d="M57,12.8 C54,14 51,13.5 49.5,12" fill="none" stroke="#fff" stroke-width="0.7"/><rect x="23.3" y="4.6" width="14.4" height="3.2" fill="#fff"/><path d="M17.5,8.5 L19.5,3.4 M43.5,8.5 L41.5,3.4" stroke="#fff" stroke-width="0.8" fill="none"/><path d="M14.5,10.5 L46.5,10.5 L50,31 Q50,34.5 44,34.8 L17,34.8 Q11,34.5 11,31 Z" fill="none" stroke="#fff" stroke-width="1.3"/><path d="M50.3,33 L54.5,46.8" stroke="#fff" stroke-width="0.9" fill="none"/><path d="M10.7,33 L8.4,37" stroke="#fff" stroke-width="0.7" fill="none"/><rect x="23.2" y="12.6" width="3.2" height="2" fill="#fff"/><rect x="28.7" y="12.6" width="3.2" height="2" fill="#fff"/><rect x="34.2" y="12.6" width="3.2" height="2" fill="#fff"/><rect x="23.2" y="16" width="3.2" height="2" fill="#fff"/><rect x="28.7" y="16" width="3.2" height="2" fill="#fff"/><rect x="34.2" y="16" width="3.2" height="2" fill="#fff"/><rect x="23.2" y="19.4" width="3.2" height="2" fill="#fff"/><rect x="28.7" y="19.4" width="3.2" height="2" fill="#fff"/><rect x="34.2" y="19.4" width="3.2" height="2" fill="#fff"/><rect x="23.2" y="22.8" width="3.2" height="2" fill="#fff"/><rect x="28.7" y="22.8" width="3.2" height="2" fill="#fff"/><rect x="34.2" y="22.8" width="3.2" height="2" fill="#fff"/><rect x="21" y="28.6" width="19" height="3.2" fill="#fff"/></g>
<g transform="translate(1434,92)"><path d="M13.5,9 L47.5,9 L54.8,43 Q55.5,49.5 50,50 L11,50 Q5.5,49.5 6.2,43 Z" fill="#000"/><path d="M4.5,3.2 C14,-0.6 47,-0.6 56.5,3.2 C59.5,5.5 61,10 60.8,13 C60.5,16.5 56,17 51.5,15.2 C49.8,14 50,10.5 48,8.2 L13,8.2 C11,10.5 11.2,14 9.5,15.2 C5,17 0.5,16.5 0.2,13 C0,10 1.5,5.5 4.5,3.2 Z" fill="#000"/><path d="M6,5 C4.5,7.5 3.5,10 3.3,12.4" fill="none" stroke="#fff" stroke-width="0.8"/><path d="M55,5 C56.5,7.5 57.5,10 57.7,12.4" fill="none" stroke="#fff" stroke-width="0.8"/><path d="M4,12.8 C7,14 10,13.5 11.5,12" fill="none" stroke="#fff" stroke-width="0.7"/><path d="M57,12.8 C54,14 51,13.5 49.5,12" fill="none" stroke="#fff" stroke-width="0.7"/><rect x="23.3" y="4.6" width="14.4" height="3.2" fill="#fff"/><path d="M17.5,8.5 L19.5,3.4 M43.5,8.5 L41.5,3.4" stroke="#fff" stroke-width="0.8" fill="none"/><path d="M14.5,10.5 L46.5,10.5 L50,31 Q50,34.5 44,34.8 L17,34.8 Q11,34.5 11,31 Z" fill="none" stroke="#fff" stroke-width="1.3"/><path d="M50.3,33 L54.5,46.8" stroke="#fff" stroke-width="0.9" fill="none"/><path d="M10.7,33 L8.4,37" stroke="#fff" stroke-width="0.7" fill="none"/><rect x="23.2" y="12.6" width="3.2" height="2" fill="#fff"/><rect x="28.7" y="12.6" width="3.2" height="2" fill="#fff"/><rect x="34.2" y="12.6" width="3.2" height="2" fill="#fff"/><rect x="23.2" y="16" width="3.2" height="2" fill="#fff"/><rect x="28.7" y="16" width="3.2" height="2" fill="#fff"/><rect x="34.2" y="16" width="3.2" height="2" fill="#fff"/><rect x="23.2" y="19.4" width="3.2" height="2" fill="#fff"/><rect x="28.7" y="19.4" width="3.2" height="2" fill="#fff"/><rect x="34.2" y="19.4" width="3.2" height="2" fill="#fff"/><rect x="23.2" y="22.8" width="3.2" height="2" fill="#fff"/><rect x="28.7" y="22.8" width="3.2" height="2" fill="#fff"/><rect x="34.2" y="22.8" width="3.2" height="2" fill="#fff"/><rect x="21" y="28.6" width="19" height="3.2" fill="#fff"/></g>
<g stroke="#5b9bd5" stroke-width="4.6" fill="none" stroke-linejoin="miter">
<path d="M1278.5,292 L1349.5,342.5"/>
</g>
<g transform="translate(1162,225) scale(0.993,1)" filter="url(#soft)"><defs><filter id="cbb" x="-20%" y="-50%" width="140%" height="200%"><feGaussianBlur stdDeviation="3"/></filter></defs><ellipse cx="71" cy="73" rx="62" ry="6" fill="#555" opacity="0.55" filter="url(#cbb)"/><path d="M22,24 L120,23 L137.5,66 Q138.5,70.5 134,71 L9,71 Q4.5,70.5 5.5,66 Z" fill="#3b3c3e"/><path d="M5.5,64.5 L137.5,64.5 Q139,70.5 134,71 L9,71 Q4,70.5 5.5,64.5 Z" fill="#2b2b2d"/><path d="M22,26 L35,26 L28,62 L10,62 Z" fill="#4d4e51"/><path d="M117,26 L122,26 L135,62 L119,62 Z" fill="#505154"/><path d="M34,30 L42,30 L42,62 L27,62 Z" fill="#28292b"/><rect x="34" y="60" width="4" height="2" fill="#3a7f4a"/><path d="M14,18 C24,14 31,19 34.5,32 C36,39 38,43 40.5,46" fill="none" stroke="#202122" stroke-width="2.4" stroke-linecap="round"/><path d="M0.5,21 Q4.5,16 12.5,16.4 Q16.5,18 14.5,21.5 Q8.5,26.5 3,26 Q-1,24.5 0.5,21 Z" fill="#1c1c1d"/><rect x="75" y="0.5" width="11" height="12" rx="1.4" fill="#151617"/><rect x="77.5" y="3" width="6" height="3.6" rx="1" fill="#1f3a28"/><rect x="42.5" y="11.5" width="77" height="52.5" rx="1.2" fill="#303133"/><rect x="44" y="16" width="74" height="3.8" fill="#121213"/><rect x="109.5" y="11" width="7" height="2.6" fill="#4a9a58"/><rect x="46.5" y="19.5" width="69" height="43.5" fill="#f3f5f8"/><rect x="46.5" y="19.5" width="5.2" height="43.5" fill="#2f5fb8"/><rect x="110.6" y="25" width="4.9" height="38" fill="#2a57b0"/><rect x="53.5" y="22.4" width="6.5" height="2.6" fill="#3a6fd0"/><rect x="81" y="22.4" width="6.5" height="2.2" fill="#6f9ae0"/><rect x="92" y="22.2" width="12" height="2.6" rx="1" fill="#5a8ee0"/><rect x="87.6" y="26" width="1.6" height="35" fill="#c9d98c" opacity="0.8"/><rect x="87.4" y="26" width="2.4" height="3" fill="#4a7ad0"/><rect x="88.2" y="30" width="2.2" height="8" fill="#f0b37e"/><rect x="55.1" y="28" width="3" height="2.6" rx="0.8" fill="#ee9452"/><rect x="61.4" y="28" width="3" height="2.6" rx="0.8" fill="#b9c0cc"/><rect x="80.3" y="28" width="3" height="2.6" rx="0.8" fill="#f6b98a"/><rect x="61.4" y="34.9" width="3" height="2.6" rx="0.8" fill="#b9c0cc"/><rect x="68" y="34.9" width="3" height="2.6" rx="0.8" fill="#f6b98a"/><rect x="73.8" y="34.9" width="3" height="2.6" rx="0.8" fill="#b9c0cc"/><rect x="80" y="34.9" width="3" height="2.6" rx="0.8" fill="#f2a166"/><rect x="60.9" y="41.8" width="3" height="2.6" rx="0.8" fill="#f2a166"/><rect x="67.5" y="41.8" width="3" height="2.6" rx="0.8" fill="#b9c0cc"/><rect x="74.7" y="41.8" width="3" height="2.6" rx="0.8" fill="#f8cfae"/><rect x="81" y="41.8" width="3" height="2.6" rx="0.8" fill="#f8cfae"/><rect x="54.6" y="48.7" width="3" height="2.6" rx="0.8" fill="#ee9452"/><rect x="74.8" y="48.7" width="3" height="2.6" rx="0.8" fill="#f8cfae"/><rect x="81" y="48.7" width="3" height="2.6" rx="0.8" fill="#f8cfae"/><rect x="54.9" y="55.6" width="3" height="2.6" rx="0.8" fill="#ee9452"/><rect x="61.3" y="55.6" width="3" height="2.6" rx="0.8" fill="#f6b98a"/><rect x="68" y="55.6" width="3" height="2.6" rx="0.8" fill="#f2a166"/><rect x="74.8" y="55.6" width="3" height="2.6" rx="0.8" fill="#f6b98a"/><rect x="80.4" y="55.6" width="3" height="2.6" rx="0.8" fill="#b9c0cc"/></g>
<g transform="translate(1274,345)" filter="url(#soft)"><defs><linearGradient id="stb" x1="0" y1="0" x2="1" y2="1"><stop offset="0" stop-color="#262834"/><stop offset="1" stop-color="#3d4050"/></linearGradient></defs><path d="M8,1.2 L15.5,24 L15.5,54 L8.5,50 Z" fill="#1b1c22"/><path d="M7.5,22 L10.5,22 L10.5,50 L7.5,48.5 Z" fill="#2f3a33"/><path d="M8.3,1.4 L103,0.6 L149,14.8 L15.5,23.6 Z" fill="url(#stb)"/><path d="M15.5,23.6 L149,14.8 L149,16.2 L15.5,25 Z" fill="#8d9299"/><path d="M15.5,24.6 L149,16 L149,38.5 L15.5,54 Z" fill="#c9cdd3"/><path d="M33,28.2 L128,22 L128,23.2 L33,29.6 Z" fill="#8a8f96"/><path d="M33,35.5 L128,28.6 L128,29.8 L33,36.9 Z" fill="#8a8f96"/><path d="M33,25 L128,18.8 L128,22 L33,28.2 Z" fill="#dfe2e6"/><path d="M33,29.6 L128,23.2 L128,28.6 L33,35.5 Z" fill="#d5d8dd"/><path d="M15.5,25 L32,24 L32,52 L15.5,54 Z" fill="#d9dce1"/><path d="M31.5,24 L33.3,24 L33.3,52 L31.5,52.2 Z" fill="#7e838a"/><path d="M0,28.8 L14,26.4 L14.5,29.6 L0.5,32.2 Z" fill="#a9b6cf"/><circle cx="18" cy="28" r="2.8" fill="#1f3f9c"/><circle cx="22" cy="39.5" r="1.5" fill="#d6423a"/><rect x="22.5" y="45.5" width="6" height="5" fill="#24262b" transform="rotate(-5 25 48)"/><circle cx="19" cy="50.5" r="1.3" fill="#222"/><circle cx="34.5" cy="41" r="1.4" fill="#222"/><path d="M38,39.5 L69.5,36.6 L69.5,48.4 L38,52 Z" fill="#6e6f66"/><rect x="39.3" y="41" width="3.6" height="3.6" fill="#33363c"/><rect x="39.3" y="47" width="3.6" height="3.6" fill="#33363c"/><rect x="40" y="39.6" width="2.2" height="1.3" fill="#4d78c8"/><rect x="40" y="45.6" width="2.2" height="1.3" fill="#4d78c8"/><rect x="44.4" y="40.5" width="3.6" height="3.6" fill="#33363c"/><rect x="44.4" y="46.5" width="3.6" height="3.6" fill="#33363c"/><rect x="45.1" y="39.1" width="2.2" height="1.3" fill="#4d78c8"/><rect x="45.1" y="45.1" width="2.2" height="1.3" fill="#4d78c8"/><rect x="49.5" y="40.1" width="3.6" height="3.6" fill="#33363c"/><rect x="49.5" y="46.1" width="3.6" height="3.6" fill="#33363c"/><rect x="50.2" y="38.7" width="2.2" height="1.3" fill="#4d78c8"/><rect x="50.2" y="44.7" width="2.2" height="1.3" fill="#4d78c8"/><rect x="54.6" y="39.6" width="3.6" height="3.6" fill="#33363c"/><rect x="54.6" y="45.6" width="3.6" height="3.6" fill="#33363c"/><rect x="55.3" y="38.2" width="2.2" height="1.3" fill="#4d78c8"/><rect x="55.3" y="44.2" width="2.2" height="1.3" fill="#4d78c8"/><rect x="59.7" y="39.1" width="3.6" height="3.6" fill="#33363c"/><rect x="59.7" y="45.1" width="3.6" height="3.6" fill="#33363c"/><rect x="60.4" y="37.7" width="2.2" height="1.3" fill="#4d78c8"/><rect x="60.4" y="43.7" width="2.2" height="1.3" fill="#4d78c8"/><rect x="64.8" y="38.6" width="3.6" height="3.6" fill="#33363c"/><rect x="64.8" y="44.6" width="3.6" height="3.6" fill="#33363c"/><rect x="65.5" y="37.2" width="2.2" height="1.3" fill="#4d78c8"/><rect x="65.5" y="43.2" width="2.2" height="1.3" fill="#4d78c8"/><circle cx="82.5" cy="36.6" r="1.5" fill="#2a2c30"/><circle cx="84.5" cy="42.5" r="1.5" fill="#2a2c30"/><path d="M89.5,37.6 L102,36.4 L102,42.4 L89.5,43.8 Z" fill="#f1f2f4"/><rect x="90.8" y="38.3" width="4" height="3.4" fill="#2b3035"/><rect x="96.4" y="37.8" width="4" height="3.4" fill="#2b3035"/><rect x="104.5" y="38.4" width="3" height="1.6" fill="#333"/><rect x="109.5" y="36" width="1.4" height="3.4" fill="#333"/><path d="M113.5,37 L123,36 L123,39.6 L113.5,40.6 Z" fill="#9c9a8c"/><circle cx="123.3" cy="35" r="1.4" fill="#f0a030"/><path d="M129,15.8 L149,14.8 L149,38.4 L129,40.6 Z" fill="#b9bdc3"/><path d="M130.5,17.6 L145.5,16.8 L145.5,20.6 L130.5,21.6 Z" fill="#24272b"/><path d="M130.5,23 L135.5,22.7 L135.5,27.6 L130.5,28 Z" fill="#1e2124"/><path d="M137,23 L145.5,22.4 L145.5,24.6 L137,25.2 Z" fill="#b09a5a"/><path d="M130.5,29.6 L145.5,28.4 L145.5,31.8 L130.5,33 Z" fill="#24272b"/><path d="M130.5,34.6 L134.5,34.3 L134.5,38.6 L130.5,39 Z" fill="#1e2124"/><path d="M137,34.4 L145.5,33.6 L145.5,35.8 L137,36.6 Z" fill="#b09a5a"/></g>
<g stroke="#5b9bd5" stroke-width="4.6" fill="none" stroke-linejoin="miter">
<path d="M1330.5,138 L1361.5,206"/>
<path d="M1464.5,143.5 L1421,205"/>
</g>
<g stroke="#5b9bd5" stroke-width="4.6" fill="none" stroke-linejoin="miter">
<path d="M1320,321.5 L1349.5,342.5 L1416,291.5"/>
</g>
<path d="M561.4,568 L569.7,563 L622.8,572 L613.3,577.8 Z" fill="#44628c"/><path d="M613.3,577.8 L622.8,572 L622.8,617.5 L613.3,625.8 Z" fill="#1d3f6e"/><path d="M562.4,568 L612.3,577.4 Q613.3,577.8 613.3,579 L613.3,625.8 L562.4,614.6 Q561.4,614.2 561.4,613 L561.4,569 Q561.4,567.8 562.4,568 Z" fill="#58739b"/><path d="M562.8,569.6 L612,578.9" stroke="#c5d2e4" stroke-width="0.7" stroke-dasharray="2.6,1.6" fill="none"/><path d="M612.3,579 L612.3,624.5" stroke="#7f97b8" stroke-width="0.9" fill="none"/><path d="M567,581 L605.9,588.7" stroke="#fff" stroke-width="3.1" fill="none"/><path d="M598.8,579.6 L608.4,589.2 L599.4,595.4" stroke="#fff" stroke-width="3.1" fill="none" stroke-linejoin="miter"/><path d="M609,600.2 L570.6,592.7" stroke="#fff" stroke-width="3.1" fill="none"/><path d="M577.8,586.4 L568.2,592.2 L577.2,600.8" stroke="#fff" stroke-width="3.1" fill="none" stroke-linejoin="miter"/><path d="M567,603.8 L605.9,611.5" stroke="#fff" stroke-width="3.1" fill="none"/><path d="M598.8,602.4 L608.4,612 L599.4,618" stroke="#fff" stroke-width="3.1" fill="none" stroke-linejoin="miter"/>
<g stroke="#17339c" stroke-width="2.2" fill="none" stroke-linejoin="miter">
<path d="M880,707 L897.4,682.3 L903.4,691.3 L921.6,665.8"/>
<path d="M1269.2,696.7 L1286.3,671.5 L1292.6,680.3 L1310.9,655"/>
</g>
<g transform="translate(608,756.4) scale(0.98,1)" filter="url(#soft)"><path d="M70,44 C74,52 82.5,54.5 83,47 C83.4,40 81,33 84.5,26" fill="none" stroke="#1a1a1a" stroke-width="1.3"/><rect x="81.8" y="9" width="6.4" height="14.5" rx="2.2" fill="#17181a" transform="rotate(6 85 16)"/><rect x="83.4" y="22" width="2.4" height="4.6" fill="#17181a"/><rect x="0" y="0" width="77.6" height="45.4" rx="1.2" fill="#121314"/><rect x="0" y="0" width="77.6" height="1" fill="#35373a"/><rect x="0" y="40" width="77.6" height="5.4" fill="#1f2022"/><path d="M5.5,1.8 L8,4.6 L10.5,1.8" stroke="#9a9c9f" stroke-width="0.8" fill="none"/><rect x="11.5" y="2.4" width="6" height="1.4" fill="#8b8d90"/><rect x="7" y="9" width="47" height="28.5" fill="#2a3440"/><path d="M7,37.5 L7,24 L30,9 L54,9 L54,16 L24,37.5 Z" fill="#3b4654"/><rect x="7.6" y="11.6" width="10.5" height="2.2" fill="#2f8bb5"/><rect x="7.6" y="15" width="10.5" height="2.2" fill="#2f8bb5"/><rect x="41.5" y="11.6" width="12" height="5.4" fill="#e9c14b"/><rect x="7" y="20.6" width="47" height="8.2" fill="#1b7f9e"/><rect x="10" y="23" width="5" height="1.6" fill="#d8eef5"/><rect x="27.5" y="21.8" width="6" height="1.8" fill="#d8eef5"/><rect x="46" y="23" width="4" height="1.6" fill="#d8eef5"/><rect x="28" y="26" width="5.5" height="1.2" fill="#a6d4e2"/><rect x="9" y="34.6" width="9" height="1.4" fill="#6d7885"/><rect x="29" y="34" width="2.4" height="2" fill="#d9a441"/><rect x="49" y="33.8" width="4" height="1.4" fill="#7a8693"/><circle cx="62" cy="9.8" r="1.5" fill="#6cc04a"/><rect x="67.6" y="8.4" width="5" height="2.8" rx="0.5" fill="#e0252b"/><rect x="60.2" y="14.2" width="2.8" height="1.3" fill="#55585c"/><rect x="65" y="14.2" width="2.8" height="1.3" fill="#55585c"/><rect x="69.8" y="14.2" width="2.8" height="1.3" fill="#55585c"/><rect x="60.2" y="17.3" width="2.8" height="1.3" fill="#55585c"/><rect x="65" y="17.3" width="2.8" height="1.3" fill="#55585c"/><rect x="69.8" y="17.3" width="2.8" height="1.3" fill="#55585c"/><rect x="60.2" y="20.4" width="2.8" height="1.3" fill="#55585c"/><rect x="65" y="20.4" width="2.8" height="1.3" fill="#55585c"/><rect x="69.8" y="20.4" width="2.8" height="1.3" fill="#55585c"/><rect x="60.2" y="27.2" width="2.6" height="1.2" fill="#3e4145"/><rect x="65" y="28.2" width="2.6" height="1.2" fill="#3e4145"/><rect x="69.8" y="27.2" width="2.6" height="1.2" fill="#3e4145"/><rect x="60.2" y="30.6" width="2.6" height="1.2" fill="#3e4145"/><rect x="65" y="31.6" width="2.6" height="1.2" fill="#3e4145"/><rect x="69.8" y="30.6" width="2.6" height="1.2" fill="#3e4145"/><rect x="59.6" y="38.6" width="4" height="2" fill="#9a6a5a"/></g>
<g transform="translate(998.4,750.8) scale(0.98,1)" filter="url(#soft)"><path d="M70,44 C74,52 82.5,54.5 83,47 C83.4,40 81,33 84.5,26" fill="none" stroke="#1a1a1a" stroke-width="1.3"/><rect x="81.8" y="9" width="6.4" height="14.5" rx="2.2" fill="#17181a" transform="rotate(6 85 16)"/><rect x="83.4" y="22" width="2.4" height="4.6" fill="#17181a"/><rect x="0" y="0" width="77.6" height="45.4" rx="1.2" fill="#121314"/><rect x="0" y="0" width="77.6" height="1" fill="#35373a"/><rect x="0" y="40" width="77.6" height="5.4" fill="#1f2022"/><path d="M5.5,1.8 L8,4.6 L10.5,1.8" stroke="#9a9c9f" stroke-width="0.8" fill="none"/><rect x="11.5" y="2.4" width="6" height="1.4" fill="#8b8d90"/><rect x="7" y="9" width="47" height="28.5" fill="#2a3440"/><path d="M7,37.5 L7,24 L30,9 L54,9 L54,16 L24,37.5 Z" fill="#3b4654"/><rect x="7.6" y="11.6" width="10.5" height="2.2" fill="#2f8bb5"/><rect x="7.6" y="15" width="10.5" height="2.2" fill="#2f8bb5"/><rect x="41.5" y="11.6" width="12" height="5.4" fill="#e9c14b"/><rect x="7" y="20.6" width="47" height="8.2" fill="#1b7f9e"/><rect x="10" y="23" width="5" height="1.6" fill="#d8eef5"/><rect x="27.5" y="21.8" width="6" height="1.8" fill="#d8eef5"/><rect x="46" y="23" width="4" height="1.6" fill="#d8eef5"/><rect x="28" y="26" width="5.5" height="1.2" fill="#a6d4e2"/><rect x="9" y="34.6" width="9" height="1.4" fill="#6d7885"/><rect x="29" y="34" width="2.4" height="2" fill="#d9a441"/><rect x="49" y="33.8" width="4" height="1.4" fill="#7a8693"/><circle cx="62" cy="9.8" r="1.5" fill="#6cc04a"/><rect x="67.6" y="8.4" width="5" height="2.8" rx="0.5" fill="#e0252b"/><rect x="60.2" y="14.2" width="2.8" height="1.3" fill="#55585c"/><rect x="65" y="14.2" width="2.8" height="1.3" fill="#55585c"/><rect x="69.8" y="14.2" width="2.8" height="1.3" fill="#55585c"/><rect x="60.2" y="17.3" width="2.8" height="1.3" fill="#55585c"/><rect x="65" y="17.3" width="2.8" height="1.3" fill="#55585c"/><rect x="69.8" y="17.3" width="2.8" height="1.3" fill="#55585c"/><rect x="60.2" y="20.4" width="2.8" height="1.3" fill="#55585c"/><rect x="65" y="20.4" width="2.8" height="1.3" fill="#55585c"/><rect x="69.8" y="20.4" width="2.8" height="1.3" fill="#55585c"/><rect x="60.2" y="27.2" width="2.6" height="1.2" fill="#3e4145"/><rect x="65" y="28.2" width="2.6" height="1.2" fill="#3e4145"/><rect x="69.8" y="27.2" width="2.6" height="1.2" fill="#3e4145"/><rect x="60.2" y="30.6" width="2.6" height="1.2" fill="#3e4145"/><rect x="65" y="31.6" width="2.6" height="1.2" fill="#3e4145"/><rect x="69.8" y="30.6" width="2.6" height="1.2" fill="#3e4145"/><rect x="59.6" y="38.6" width="4" height="2" fill="#9a6a5a"/></g>
<g transform="translate(1373.4,748.8) scale(0.98,1)" filter="url(#soft)"><path d="M70,44 C74,52 82.5,54.5 83,47 C83.4,40 81,33 84.5,26" fill="none" stroke="#1a1a1a" stroke-width="1.3"/><rect x="81.8" y="9" width="6.4" height="14.5" rx="2.2" fill="#17181a" transform="rotate(6 85 16)"/><rect x="83.4" y="22" width="2.4" height="4.6" fill="#17181a"/><rect x="0" y="0" width="77.6" height="45.4" rx="1.2" fill="#121314"/><rect x="0" y="0" width="77.6" height="1" fill="#35373a"/><rect x="0" y="40" width="77.6" height="5.4" fill="#1f2022"/><path d="M5.5,1.8 L8,4.6 L10.5,1.8" stroke="#9a9c9f" stroke-width="0.8" fill="none"/><rect x="11.5" y="2.4" width="6" height="1.4" fill="#8b8d90"/><rect x="7" y="9" width="47" height="28.5" fill="#2a3440"/><path d="M7,37.5 L7,24 L30,9 L54,9 L54,16 L24,37.5 Z" fill="#3b4654"/><rect x="7.6" y="11.6" width="10.5" height="2.2" fill="#2f8bb5"/><rect x="7.6" y="15" width="10.5" height="2.2" fill="#2f8bb5"/><rect x="41.5" y="11.6" width="12" height="5.4" fill="#e9c14b"/><rect x="7" y="20.6" width="47" height="8.2" fill="#1b7f9e"/><rect x="10" y="23" width="5" height="1.6" fill="#d8eef5"/><rect x="27.5" y="21.8" width="6" height="1.8" fill="#d8eef5"/><rect x="46" y="23" width="4" height="1.6" fill="#d8eef5"/><rect x="28" y="26" width="5.5" height="1.2" fill="#a6d4e2"/><rect x="9" y="34.6" width="9" height="1.4" fill="#6d7885"/><rect x="29" y="34" width="2.4" height="2" fill="#d9a441"/><rect x="49" y="33.8" width="4" height="1.4" fill="#7a8693"/><circle cx="62" cy="9.8" r="1.5" fill="#6cc04a"/><rect x="67.6" y="8.4" width="5" height="2.8" rx="0.5" fill="#e0252b"/><rect x="60.2" y="14.2" width="2.8" height="1.3" fill="#55585c"/><rect x="65" y="14.2" width="2.8" height="1.3" fill="#55585c"/><rect x="69.8" y="14.2" width="2.8" height="1.3" fill="#55585c"/><rect x="60.2" y="17.3" width="2.8" height="1.3" fill="#55585c"/><rect x="65" y="17.3" width="2.8" height="1.3" fill="#55585c"/><rect x="69.8" y="17.3" width="2.8" height="1.3" fill="#55585c"/><rect x="60.2" y="20.4" width="2.8" height="1.3" fill="#55585c"/><rect x="65" y="20.4" width="2.8" height="1.3" fill="#55585c"/><rect x="69.8" y="20.4" width="2.8" height="1.3" fill="#55585c"/><rect x="60.2" y="27.2" width="2.6" height="1.2" fill="#3e4145"/><rect x="65" y="28.2" width="2.6" height="1.2" fill="#3e4145"/><rect x="69.8" y="27.2" width="2.6" height="1.2" fill="#3e4145"/><rect x="60.2" y="30.6" width="2.6" height="1.2" fill="#3e4145"/><rect x="65" y="31.6" width="2.6" height="1.2" fill="#3e4145"/><rect x="69.8" y="30.6" width="2.6" height="1.2" fill="#3e4145"/><rect x="59.6" y="38.6" width="4" height="2" fill="#9a6a5a"/></g>
<g transform="translate(744,736)" filter="url(#soft)"><defs><radialGradient id="hsa" cx="0.38" cy="0.42" r="0.6"><stop offset="0" stop-color="#1d5fc0"/><stop offset="0.35" stop-color="#0f2f66"/><stop offset="1" stop-color="#070b14"/></radialGradient></defs><path d="M6.2,0.6 Q6.2,0 7,0 L11.6,0 Q12.4,0 12.4,0.6 L13.4,18 L5.2,18 Z" fill="#0e0f10"/><rect x="16.6" y="9.6" width="7.6" height="9" rx="1.2" fill="#141516"/><rect x="28" y="12.2" width="7.6" height="6.4" rx="1.2" fill="#141516"/><path d="M3,17.6 L38,17.6 Q40,17.8 40,20 L40.4,26 L41.5,27 L41.5,43 L40,44.5 L40,84.5 Q40,88.6 36,88.6 L6,88.6 Q2,88.6 2,84.5 L2,44.5 L0.4,43 L0.4,27 L1.6,26 L2,20 Q2,17.8 3,17.6 Z" fill="#3a3c40"/><rect x="4" y="20.4" width="34" height="10.4" fill="#2a2b2e"/><path d="M30.5,21.6 L33.6,21.6 L35,26.4 L29.4,26.4 Z" fill="#101114"/><rect x="0.3" y="29" width="1.9" height="13" fill="#c27a3a"/><rect x="3.6" y="31" width="34.8" height="54" rx="2" fill="#08090c"/><rect x="5" y="32.4" width="32" height="51" fill="url(#hsa)"/><rect x="14.5" y="34" width="5" height="24" fill="#2468d4" opacity="0.35"/><rect x="6.5" y="34" width="4" height="1" fill="#c8ccd2"/><rect x="28" y="33.6" width="7" height="1" fill="#c8ccd2"/><rect x="26" y="37.6" width="8" height="2.6" fill="#e3e6ea"/><rect x="26.6" y="41.2" width="7" height="1.1" fill="#aeb3ba"/><circle cx="13.4" cy="60.4" r="3.4" fill="#3f8fe6"/><circle cx="13" cy="59.8" r="1.4" fill="#d9ecff"/><rect x="18.4" y="59.6" width="3" height="1.6" fill="#e3e6ea"/><circle cx="13.4" cy="69.8" r="3.4" fill="#3f8fe6"/><circle cx="13" cy="69.2" r="1.4" fill="#d9ecff"/><rect x="18.4" y="69" width="3" height="1.6" fill="#e3e6ea"/><rect x="8" y="74" width="27" height="9.4" fill="#3a2a30" opacity="0.55"/><rect x="12" y="78" width="1.8" height="1.8" fill="#c9ccd1"/><rect x="20" y="78" width="1.8" height="1.8" fill="#c9ccd1"/><rect x="28" y="78" width="1.8" height="1.8" fill="#c9ccd1"/><rect x="32.6" y="77.4" width="2.8" height="2.6" fill="#f2f3f5"/><rect x="13" y="86" width="16" height="1.3" rx="0.6" fill="#1b1c1e"/></g>
<g transform="translate(1137,731.6)" filter="url(#soft)"><defs><radialGradient id="hsb" cx="0.38" cy="0.42" r="0.6"><stop offset="0" stop-color="#1d5fc0"/><stop offset="0.35" stop-color="#0f2f66"/><stop offset="1" stop-color="#070b14"/></radialGradient></defs><path d="M6.2,0.6 Q6.2,0 7,0 L11.6,0 Q12.4,0 12.4,0.6 L13.4,18 L5.2,18 Z" fill="#0e0f10"/><rect x="16.6" y="9.6" width="7.6" height="9" rx="1.2" fill="#141516"/><rect x="28" y="12.2" width="7.6" height="6.4" rx="1.2" fill="#141516"/><path d="M3,17.6 L38,17.6 Q40,17.8 40,20 L40.4,26 L41.5,27 L41.5,43 L40,44.5 L40,84.5 Q40,88.6 36,88.6 L6,88.6 Q2,88.6 2,84.5 L2,44.5 L0.4,43 L0.4,27 L1.6,26 L2,20 Q2,17.8 3,17.6 Z" fill="#3a3c40"/><rect x="4" y="20.4" width="34" height="10.4" fill="#2a2b2e"/><path d="M30.5,21.6 L33.6,21.6 L35,26.4 L29.4,26.4 Z" fill="#101114"/><rect x="0.3" y="29" width="1.9" height="13" fill="#c27a3a"/><rect x="3.6" y="31" width="34.8" height="54" rx="2" fill="#08090c"/><rect x="5" y="32.4" width="32" height="51" fill="url(#hsb)"/><rect x="14.5" y="34" width="5" height="24" fill="#2468d4" opacity="0.35"/><rect x="6.5" y="34" width="4" height="1" fill="#c8ccd2"/><rect x="28" y="33.6" width="7" height="1" fill="#c8ccd2"/><rect x="26" y="37.6" width="8" height="2.6" fill="#e3e6ea"/><rect x="26.6" y="41.2" width="7" height="1.1" fill="#aeb3ba"/><circle cx="13.4" cy="60.4" r="3.4" fill="#3f8fe6"/><circle cx="13" cy="59.8" r="1.4" fill="#d9ecff"/><rect x="18.4" y="59.6" width="3" height="1.6" fill="#e3e6ea"/><circle cx="13.4" cy="69.8" r="3.4" fill="#3f8fe6"/><circle cx="13" cy="69.2" r="1.4" fill="#d9ecff"/><rect x="18.4" y="69" width="3" height="1.6" fill="#e3e6ea"/><rect x="8" y="74" width="27" height="9.4" fill="#3a2a30" opacity="0.55"/><rect x="12" y="78" width="1.8" height="1.8" fill="#c9ccd1"/><rect x="20" y="78" width="1.8" height="1.8" fill="#c9ccd1"/><rect x="28" y="78" width="1.8" height="1.8" fill="#c9ccd1"/><rect x="32.6" y="77.4" width="2.8" height="2.6" fill="#f2f3f5"/><rect x="13" y="86" width="16" height="1.3" rx="0.6" fill="#1b1c1e"/></g>
<g transform="translate(1513.2,725)" filter="url(#soft)"><defs><radialGradient id="hsc" cx="0.38" cy="0.42" r="0.6"><stop offset="0" stop-color="#1d5fc0"/><stop offset="0.35" stop-color="#0f2f66"/><stop offset="1" stop-color="#070b14"/></radialGradient></defs><path d="M6.2,0.6 Q6.2,0 7,0 L11.6,0 Q12.4,0 12.4,0.6 L13.4,18 L5.2,18 Z" fill="#0e0f10"/><rect x="16.6" y="9.6" width="7.6" height="9" rx="1.2" fill="#141516"/><rect x="28" y="12.2" width="7.6" height="6.4" rx="1.2" fill="#141516"/><path d="M3,17.6 L38,17.6 Q40,17.8 40,20 L40.4,26 L41.5,27 L41.5,43 L40,44.5 L40,84.5 Q40,88.6 36,88.6 L6,88.6 Q2,88.6 2,84.5 L2,44.5 L0.4,43 L0.4,27 L1.6,26 L2,20 Q2,17.8 3,17.6 Z" fill="#3a3c40"/><rect x="4" y="20.4" width="34" height="10.4" fill="#2a2b2e"/><path d="M30.5,21.6 L33.6,21.6 L35,26.4 L29.4,26.4 Z" fill="#101114"/><rect x="0.3" y="29" width="1.9" height="13" fill="#c27a3a"/><rect x="3.6" y="31" width="34.8" height="54" rx="2" fill="#08090c"/><rect x="5" y="32.4" width="32" height="51" fill="url(#hsc)"/><rect x="14.5" y="34" width="5" height="24" fill="#2468d4" opacity="0.35"/><rect x="6.5" y="34" width="4" height="1" fill="#c8ccd2"/><rect x="28" y="33.6" width="7" height="1" fill="#c8ccd2"/><rect x="26" y="37.6" width="8" height="2.6" fill="#e3e6ea"/><rect x="26.6" y="41.2" width="7" height="1.1" fill="#aeb3ba"/><circle cx="13.4" cy="60.4" r="3.4" fill="#3f8fe6"/><circle cx="13" cy="59.8" r="1.4" fill="#d9ecff"/><rect x="18.4" y="59.6" width="3" height="1.6" fill="#e3e6ea"/><circle cx="13.4" cy="69.8" r="3.4" fill="#3f8fe6"/><circle cx="13" cy="69.2" r="1.4" fill="#d9ecff"/><rect x="18.4" y="69" width="3" height="1.6" fill="#e3e6ea"/><rect x="8" y="74" width="27" height="9.4" fill="#3a2a30" opacity="0.55"/><rect x="12" y="78" width="1.8" height="1.8" fill="#c9ccd1"/><rect x="20" y="78" width="1.8" height="1.8" fill="#c9ccd1"/><rect x="28" y="78" width="1.8" height="1.8" fill="#c9ccd1"/><rect x="32.6" y="77.4" width="2.8" height="2.6" fill="#f2f3f5"/><rect x="13" y="86" width="16" height="1.3" rx="0.6" fill="#1b1c1e"/></g>
<g transform="translate(864,738.6)"><polygon points="-7.1,69.2 4.6,78.9 26.2,78.9 37.9,69.2 37.9,71.5 26.2,81.2 4.6,81.2 -7.1,71.5" fill="#2f5b8c"/><polygon points="-7.1,69.2 4.6,59.5 26.2,59.5 37.9,69.2 26.2,78.9 4.6,78.9" fill="#8da9c6" stroke="#7b99b9" stroke-width="0.5"/><polygon points="-41.7,80.4 -30,90.1 -8.4,90.1 3.3,80.4 3.3,82.7 -8.4,92.4 -30,92.4 -41.7,82.7" fill="#2f5b8c"/><polygon points="-41.7,80.4 -30,70.7 -8.4,70.7 3.3,80.4 -8.4,90.1 -30,90.1" fill="#8da9c6" stroke="#7b99b9" stroke-width="0.5"/><polygon points="-7.1,92.2 4.6,101.9 26.2,101.9 37.9,92.2 37.9,94.5 26.2,104.2 4.6,104.2 -7.1,94.5" fill="#2f5b8c"/><polygon points="-7.1,92.2 4.6,82.5 26.2,82.5 37.9,92.2 26.2,101.9 4.6,101.9" fill="#8da9c6" stroke="#7b99b9" stroke-width="0.5"/><path fill-rule="evenodd" d="M-1.1,5.4 L1.1,5.4 L1.3,8.4 L2.8,9 L2.8,11.4 L4,12 L4,14.6 L2.9,15 L8.9,47.6 L12.6,47.6 L12.6,50.8 L9.8,50.8 L14,62.2 L20.3,62.2 L20.3,67 L16.2,67 L21.2,76.8 L14.2,76.8 C12.2,71.6 7,69.4 0,69.4 C-7,69.4 -12.2,71.6 -14.2,76.8 L-21.2,76.8 L-16.2,67 L-20.3,67 L-20.3,62.2 L-14,62.2 L-9.8,50.8 L-12.6,50.8 L-12.6,47.6 L-8.9,47.6 L-2.9,15 L-4,14.6 L-4,12 L-2.8,11.4 L-2.8,9 L-1.3,8.4 Z M0,22.5 L4.6,47.6 L-4.6,47.6 Z M-5.2,50.8 L5.2,50.8 L9.2,62.2 L-9.2,62.2 Z" fill="#34567f"/><path d="M-9.2,5.2 Q-12.6,10.2 -9.2,15.2" fill="none" stroke="#2f5f8f" stroke-width="1.0" stroke-linecap="round"/><path d="M9.2,5.2 Q12.6,10.2 9.2,15.2" fill="none" stroke="#2f5f8f" stroke-width="1.0" stroke-linecap="round"/><path d="M-16,3 Q-19.4,10.2 -16,17.4" fill="none" stroke="#2f5f8f" stroke-width="1.2" stroke-linecap="round"/><path d="M16,3 Q19.4,10.2 16,17.4" fill="none" stroke="#2f5f8f" stroke-width="1.2" stroke-linecap="round"/><path d="M-23.1,0.8 Q-26.5,10.2 -23.1,19.6" fill="none" stroke="#2f5f8f" stroke-width="1.5" stroke-linecap="round"/><path d="M23.1,0.8 Q26.5,10.2 23.1,19.6" fill="none" stroke="#2f5f8f" stroke-width="1.5" stroke-linecap="round"/></g>
<g transform="translate(1245.6,727.8)"><polygon points="-7.1,67.6 4.6,77.3 26.2,77.3 37.9,67.6 37.9,70.7 26.2,80.4 4.6,80.4 -7.1,70.7" fill="#2f5b8c"/><polygon points="-7.1,67.6 4.6,57.9 26.2,57.9 37.9,67.6 26.2,77.3 4.6,77.3" fill="#8da9c6" stroke="#7b99b9" stroke-width="0.5"/><polygon points="-41.7,80 -30,89.7 -8.4,89.7 3.3,80 3.3,83.1 -8.4,92.8 -30,92.8 -41.7,83.1" fill="#2f5b8c"/><polygon points="-41.7,80 -30,70.3 -8.4,70.3 3.3,80 -8.4,89.7 -30,89.7" fill="#8da9c6" stroke="#7b99b9" stroke-width="0.5"/><polygon points="-7.1,90.6 4.6,100.3 26.2,100.3 37.9,90.6 37.9,93.7 26.2,103.4 4.6,103.4 -7.1,93.7" fill="#2f5b8c"/><polygon points="-7.1,90.6 4.6,80.9 26.2,80.9 37.9,90.6 26.2,100.3 4.6,100.3" fill="#8da9c6" stroke="#7b99b9" stroke-width="0.5"/><path fill-rule="evenodd" d="M-1.1,5.4 L1.1,5.4 L1.3,8.4 L2.8,9 L2.8,11.4 L4,12 L4,14.6 L2.9,15 L8.9,47.6 L12.6,47.6 L12.6,50.8 L9.8,50.8 L14,62.2 L20.3,62.2 L20.3,67 L16.2,67 L21.2,76.8 L14.2,76.8 C12.2,71.6 7,69.4 0,69.4 C-7,69.4 -12.2,71.6 -14.2,76.8 L-21.2,76.8 L-16.2,67 L-20.3,67 L-20.3,62.2 L-14,62.2 L-9.8,50.8 L-12.6,50.8 L-12.6,47.6 L-8.9,47.6 L-2.9,15 L-4,14.6 L-4,12 L-2.8,11.4 L-2.8,9 L-1.3,8.4 Z M0,22.5 L4.6,47.6 L-4.6,47.6 Z M-5.2,50.8 L5.2,50.8 L9.2,62.2 L-9.2,62.2 Z" fill="#34567f"/><path d="M-9.2,5.2 Q-12.6,10.2 -9.2,15.2" fill="none" stroke="#2f5f8f" stroke-width="1.0" stroke-linecap="round"/><path d="M9.2,5.2 Q12.6,10.2 9.2,15.2" fill="none" stroke="#2f5f8f" stroke-width="1.0" stroke-linecap="round"/><path d="M-16,3 Q-19.4,10.2 -16,17.4" fill="none" stroke="#2f5f8f" stroke-width="1.2" stroke-linecap="round"/><path d="M16,3 Q19.4,10.2 16,17.4" fill="none" stroke="#2f5f8f" stroke-width="1.2" stroke-linecap="round"/><path d="M-23.1,0.8 Q-26.5,10.2 -23.1,19.6" fill="none" stroke="#2f5f8f" stroke-width="1.5" stroke-linecap="round"/><path d="M23.1,0.8 Q26.5,10.2 23.1,19.6" fill="none" stroke="#2f5f8f" stroke-width="1.5" stroke-linecap="round"/></g>
<g style="will-change:transform">
<text class="sl" x="47.4" y="274.6" font-size="25.2" fill="#111">调度所</text>
<text class="se" x="105.2" y="405" font-size="24.2" letter-spacing="1.6">多媒体调度台</text>
<text class="sr" x="21.6" y="587" font-size="29.1" fill="#2f5597">多媒体融合通信系统</text>
<text class="sr" x="301.6" y="587" font-size="29.1" fill="#2f5597">无线通信系统</text>
<text class="sr" x="670.5" y="65" font-size="38.8" fill="#0a73c6" textLength="93.5" lengthAdjust="spacingAndGlyphs">车站1</text>
<text class="se" x="814.7" y="62" font-size="24.2" letter-spacing="1.6">区间用户</text>
<text class="se" x="950.2" y="62" font-size="24.2" letter-spacing="1.6">站场用户</text>
<text class="se" x="659.8" y="208" font-size="24.2" letter-spacing="1.6">多媒体值班台</text>
<text class="se" x="926.2" y="317.5" font-size="24.2" letter-spacing="1.6">车站网关</text>
<text class="se" x="857.5" y="407" font-size="24.2" letter-spacing="1.6">车站接入交换机</text>
<text class="sr" x="1157.6" y="66.6" font-size="38.8" fill="#0a73c6" textLength="102.5" lengthAdjust="spacingAndGlyphs">车站N</text>
<text class="se" x="1279.5" y="63" font-size="24.2" letter-spacing="1.6">区间用户</text>
<text class="se" x="1412.9" y="64" font-size="24.2" letter-spacing="1.6">站场用户</text>
<text class="se" x="1160.9" y="212.5" font-size="24.2" letter-spacing="1.6">多媒体值班台</text>
<text class="se" x="1411.2" y="326" font-size="24.2" letter-spacing="1.6">车站网关</text>
<text class="se" x="1330.9" y="417" font-size="24.2" letter-spacing="1.6">车站接入交换机</text>
<text class="sb" x="1058" y="471" font-size="25" fill="#2f5597">铁路数据网</text>
<text class="sb" x="1025" y="621" font-size="25" fill="#2f5597">运营商<tspan font-size="26.4" letter-spacing="0.25">4G/5G</tspan>公网</text>
<text class="sl" x="561" y="654" font-size="24.6" fill="#111">防火墙</text>
<text class="sl" x="608.2" y="825.8" font-size="24.9" fill="#111">机车台</text>
<text class="sl" x="1008.2" y="829.8" font-size="24.9" fill="#111">机车台</text>
<text class="sl" x="1373.5" y="825.6" font-size="24.9" fill="#111">机车台</text>
<text class="sl" x="735.8" y="849" font-size="24.7" fill="#111">手持台</text>
<text class="sl" x="1129.6" y="845" font-size="24.7" fill="#111">手持台</text>
<text class="sl" x="1504.4" y="839.5" font-size="24.7" fill="#111">手持台</text>
<text class="sr" x="894.5" y="785.2" font-size="34.6" fill="#2f5597">LTE</text>
<text class="sr" x="1268.8" y="771.3" font-size="34.6" fill="#2f5597">LTE</text>
</g>
</svg>
</body>
</html>
